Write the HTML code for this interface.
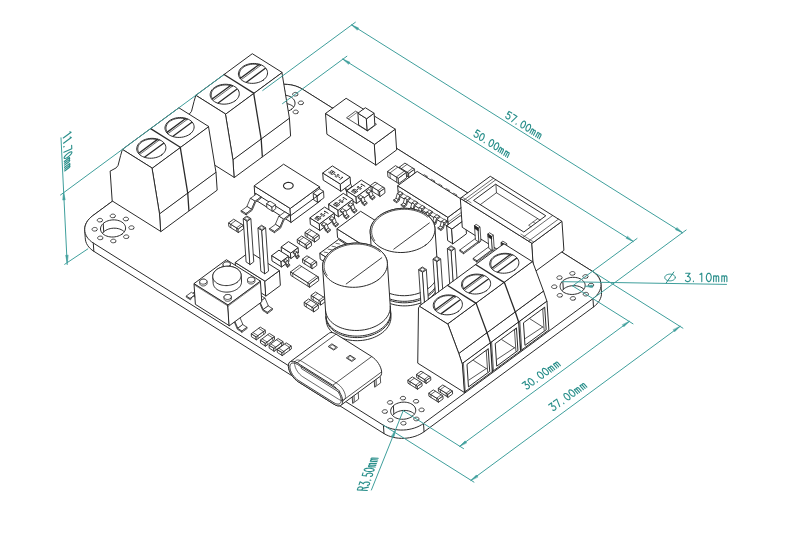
<!DOCTYPE html>
<html><head><meta charset="utf-8"><style>
html,body{margin:0;padding:0;background:#fff;}
svg{display:block;}
</style></head><body>
<svg width="790" height="551" viewBox="0 0 790 551">
<rect width="790" height="551" fill="#fff"/>
<g font-family="Liberation Sans, sans-serif" fill="#fff" stroke="#2b2b2b" stroke-width="1" stroke-linejoin="round" stroke-linecap="round">
<polygon points="84.71,229.72 84.81,227.82 85.18,225.93 85.82,224.06 86.72,222.23 87.87,220.47 89.27,218.78 90.9,217.18 92.74,215.69 262.18,90.89 264.21,89.52 266.43,88.3 268.79,87.21 271.29,86.29 273.89,85.53 276.58,84.95 279.33,84.55 282.11,84.33 284.88,84.3 287.64,84.45 290.35,84.79 292.98,85.31 295.51,86.01 297.91,86.88 300.17,87.91 302.26,89.09 592.41,271.34 594.3,272.66 595.99,274.11 597.45,275.67 598.67,277.33 599.65,279.07 600.36,280.88 600.8,282.74 600.98,284.62 601.53,292.93 601.43,294.82 601.06,296.72 600.42,298.59 599.52,300.41 598.37,302.18 596.97,303.87 595.34,305.47 593.5,306.96 424.06,431.76 422.03,433.12 419.82,434.35 417.45,435.43 414.95,436.36 412.35,437.11 409.66,437.7 406.91,438.1 404.14,438.32 401.36,438.35 398.6,438.19 395.89,437.85 393.26,437.33 390.73,436.64 388.33,435.77 386.07,434.74 383.99,433.56 93.83,251.31 91.94,249.99 90.25,248.54 88.79,246.98 87.57,245.32 86.59,243.58 85.88,241.77 85.44,239.91 85.26,238.02"/>
<polygon points="383.43,425.26 385.52,426.44 387.77,427.47 390.18,428.33 392.71,429.03 395.34,429.55 398.05,429.89 400.8,430.05 403.58,430.01 406.36,429.8 409.1,429.39 411.79,428.81 414.4,428.06 416.9,427.13 419.26,426.05 421.47,424.82 423.51,423.45 592.95,298.65 594.79,297.17 596.42,295.57 597.81,293.88 598.97,292.11 599.87,290.29 600.51,288.42 600.88,286.52 600.98,284.62 600.8,282.74 600.36,280.88 599.65,279.07 598.67,277.33 597.45,275.67 595.99,274.11 594.3,272.66 592.41,271.34 302.26,89.09 300.17,87.91 297.91,86.88 295.51,86.01 292.98,85.31 290.35,84.79 287.64,84.45 284.88,84.3 282.1,84.33 279.33,84.55 276.58,84.95 273.89,85.53 271.29,86.29 268.79,87.21 266.42,88.29 264.21,89.52 262.18,90.89 92.74,215.69 90.9,217.18 89.27,218.78 87.87,220.47 86.72,222.23 85.82,224.06 85.18,225.93 84.81,227.82 84.71,229.72 84.88,231.61 85.33,233.47 86.04,235.27 87.01,237.02 88.24,238.68 89.7,240.24 91.38,241.69 93.28,243.01"/>
<polyline points="93.28,243.01 93.83,251.31" fill="none"/>
<polyline points="383.43,425.26 383.98,433.56" fill="none"/>
<polyline points="423.51,423.45 424.06,431.76" fill="none"/>
<polyline points="592.95,298.65 593.5,306.96" fill="none"/>
<polygon points="122.04,234.1 123.11,233.21 124,232.24 124.71,231.2 125.22,230.12 125.51,229 125.6,227.88 125.47,226.77 125.13,225.69 124.58,224.65 123.83,223.68 122.9,222.79 121.8,222 120.55,221.32 119.18,220.76 117.69,220.33 116.13,220.04 114.52,219.89 112.88,219.89 111.24,220.04 109.64,220.33 108.09,220.76 106.63,221.32 105.27,222 104.05,222.8 102.99,223.69 102.09,224.66 101.39,225.7 100.88,226.78 100.58,227.89 100.5,229.01 100.63,230.12 100.97,231.21 101.52,232.24 102.26,233.21 103.19,234.1 104.29,234.9 105.54,235.58 106.92,236.14 108.4,236.57 109.96,236.86 111.58,237 113.22,237 114.86,236.86 116.46,236.56 118.01,236.13 119.47,235.57 120.82,234.89 122.04,234.1"/>
<clipPath id="h3_3"><polygon points="122.04,234.1 123.11,233.21 124,232.24 124.71,231.2 125.22,230.12 125.51,229 125.6,227.88 125.47,226.77 125.13,225.69 124.58,224.65 123.83,223.68 122.9,222.79 121.8,222 120.55,221.32 119.18,220.76 117.69,220.33 116.13,220.04 114.52,219.89 112.88,219.89 111.24,220.04 109.64,220.33 108.09,220.76 106.63,221.32 105.27,222 104.05,222.8 102.99,223.69 102.09,224.66 101.39,225.7 100.88,226.78 100.58,227.89 100.5,229.01 100.63,230.12 100.97,231.21 101.52,232.24 102.26,233.21 103.19,234.1 104.29,234.9 105.54,235.58 106.92,236.14 108.4,236.57 109.96,236.86 111.58,237 113.22,237 114.86,236.86 116.46,236.56 118.01,236.13 119.47,235.57 120.82,234.89 122.04,234.1"/></clipPath>
<polygon points="122.6,242.4 123.66,241.51 124.56,240.54 125.26,239.5 125.77,238.42 126.07,237.31 126.15,236.19 126.02,235.07 125.68,233.99 125.13,232.95 124.39,231.98 123.46,231.09 122.36,230.3 121.11,229.62 119.73,229.06 118.25,228.63 116.69,228.34 115.07,228.19 113.43,228.2 111.8,228.34 110.19,228.63 108.64,229.06 107.18,229.62 105.83,230.31 104.61,231.1 103.54,231.99 102.65,232.96 101.94,234 101.44,235.08 101.14,236.19 101.05,237.31 101.18,238.43 101.52,239.51 102.07,240.54 102.82,241.52 103.75,242.4 104.85,243.2 106.1,243.88 107.47,244.44 108.96,244.87 110.52,245.16 112.13,245.3 113.77,245.3 115.41,245.16 117.02,244.87 118.56,244.44 120.03,243.88 121.38,243.19 122.6,242.4" fill="none" clip-path="url(#h3_3)"/>
<polyline points="103.19,223.5 103.74,231.8" fill="none" clip-path="url(#h3_3)"/>
<polygon points="128.14,237.92 128.7,237.31 128.89,236.6 128.68,235.91 128.09,235.35 127.21,234.99 126.19,234.9 125.17,235.09 124.31,235.52 123.74,236.14 123.55,236.84 123.77,237.53 124.36,238.09 125.23,238.45 126.26,238.54 127.28,238.36 128.14,237.92" stroke-width="0.85"/>
<polygon points="133.34,228.82 133.91,228.21 134.1,227.5 133.88,226.81 133.29,226.25 132.42,225.89 131.39,225.8 130.37,225.98 129.51,226.42 128.95,227.03 128.76,227.74 128.97,228.43 129.57,228.99 130.44,229.35 131.47,229.44 132.48,229.26 133.34,228.82" stroke-width="0.85"/>
<polygon points="127.78,220.21 128.35,219.59 128.54,218.88 128.32,218.2 127.73,217.63 126.86,217.28 125.83,217.18 124.81,217.37 123.95,217.8 123.39,218.42 123.2,219.12 123.41,219.81 124.01,220.38 124.88,220.73 125.91,220.83 126.93,220.64 127.78,220.21" stroke-width="0.85"/>
<polygon points="114.71,217.12 115.28,216.51 115.47,215.8 115.25,215.11 114.66,214.55 113.79,214.19 112.76,214.1 111.74,214.28 110.88,214.72 110.32,215.33 110.13,216.04 110.34,216.73 110.94,217.29 111.81,217.65 112.84,217.74 113.86,217.56 114.71,217.12" stroke-width="0.85"/>
<polygon points="101.79,221.38 102.36,220.76 102.55,220.05 102.33,219.37 101.74,218.8 100.86,218.44 99.84,218.35 98.82,218.54 97.96,218.97 97.39,219.59 97.2,220.29 97.42,220.98 98.01,221.55 98.89,221.9 99.91,221.99 100.93,221.81 101.79,221.38" stroke-width="0.85"/>
<polygon points="96.58,230.48 97.15,229.86 97.34,229.15 97.12,228.47 96.53,227.9 95.66,227.55 94.63,227.45 93.61,227.64 92.75,228.07 92.19,228.69 92,229.39 92.21,230.08 92.8,230.65 93.68,231 94.7,231.1 95.72,230.91 96.58,230.48" stroke-width="0.85"/>
<polygon points="102.14,239.09 102.71,238.48 102.9,237.77 102.68,237.08 102.09,236.52 101.22,236.16 100.19,236.07 99.17,236.25 98.31,236.69 97.75,237.3 97.56,238.01 97.77,238.7 98.36,239.26 99.24,239.62 100.26,239.71 101.28,239.53 102.14,239.09" stroke-width="0.85"/>
<polygon points="115.21,242.18 115.78,241.56 115.97,240.86 115.75,240.17 115.16,239.6 114.29,239.25 113.26,239.15 112.24,239.34 111.38,239.77 110.81,240.39 110.63,241.1 110.84,241.78 111.43,242.35 112.31,242.7 113.33,242.8 114.35,242.61 115.21,242.18" stroke-width="0.85"/>
<polygon points="291.48,109.3 292.55,108.41 293.44,107.44 294.15,106.4 294.66,105.32 294.95,104.2 295.04,103.08 294.91,101.97 294.57,100.89 294.02,99.85 293.27,98.88 292.34,97.99 291.24,97.2 289.99,96.52 288.62,95.96 287.13,95.53 285.57,95.24 283.96,95.09 282.32,95.09 280.68,95.24 279.08,95.53 277.53,95.96 276.07,96.52 274.71,97.2 273.49,98 272.43,98.89 271.53,99.86 270.83,100.9 270.32,101.98 270.02,103.09 269.94,104.21 270.07,105.32 270.41,106.41 270.96,107.44 271.7,108.41 272.63,109.3 273.73,110.1 274.98,110.78 276.36,111.34 277.84,111.77 279.4,112.06 281.02,112.2 282.66,112.2 284.3,112.06 285.9,111.76 287.45,111.33 288.91,110.77 290.26,110.09 291.48,109.3"/>
<clipPath id="h3_33"><polygon points="291.48,109.3 292.55,108.41 293.44,107.44 294.15,106.4 294.66,105.32 294.95,104.2 295.04,103.08 294.91,101.97 294.57,100.89 294.02,99.85 293.27,98.88 292.34,97.99 291.24,97.2 289.99,96.52 288.62,95.96 287.13,95.53 285.57,95.24 283.96,95.09 282.32,95.09 280.68,95.24 279.08,95.53 277.53,95.96 276.07,96.52 274.71,97.2 273.49,98 272.43,98.89 271.53,99.86 270.83,100.9 270.32,101.98 270.02,103.09 269.94,104.21 270.07,105.32 270.41,106.41 270.96,107.44 271.7,108.41 272.63,109.3 273.73,110.1 274.98,110.78 276.36,111.34 277.84,111.77 279.4,112.06 281.02,112.2 282.66,112.2 284.3,112.06 285.9,111.76 287.45,111.33 288.91,110.77 290.26,110.09 291.48,109.3"/></clipPath>
<polygon points="292.04,117.6 293.1,116.71 294,115.74 294.7,114.7 295.21,113.62 295.51,112.51 295.59,111.39 295.46,110.27 295.12,109.19 294.57,108.15 293.83,107.18 292.9,106.29 291.8,105.5 290.55,104.82 289.17,104.26 287.69,103.83 286.13,103.54 284.51,103.39 282.87,103.4 281.24,103.54 279.63,103.83 278.08,104.26 276.62,104.82 275.27,105.51 274.05,106.3 272.98,107.19 272.09,108.16 271.38,109.2 270.88,110.28 270.58,111.39 270.49,112.51 270.62,113.63 270.96,114.71 271.51,115.74 272.26,116.72 273.19,117.6 274.29,118.4 275.54,119.08 276.91,119.64 278.4,120.07 279.96,120.36 281.57,120.5 283.21,120.5 284.85,120.36 286.46,120.07 288,119.64 289.47,119.08 290.82,118.39 292.04,117.6" fill="none" clip-path="url(#h3_33)"/>
<polyline points="272.63,98.7 273.18,107" fill="none" clip-path="url(#h3_33)"/>
<polygon points="297.58,113.12 298.14,112.51 298.33,111.8 298.12,111.11 297.53,110.55 296.65,110.19 295.63,110.1 294.61,110.29 293.75,110.72 293.18,111.34 292.99,112.04 293.21,112.73 293.8,113.29 294.67,113.65 295.7,113.74 296.72,113.56 297.58,113.12" stroke-width="0.85"/>
<polygon points="302.78,104.02 303.35,103.41 303.54,102.7 303.32,102.01 302.73,101.45 301.86,101.09 300.83,101 299.81,101.18 298.95,101.62 298.39,102.23 298.2,102.94 298.41,103.63 299.01,104.19 299.88,104.55 300.91,104.64 301.92,104.46 302.78,104.02" stroke-width="0.85"/>
<polygon points="297.22,95.41 297.79,94.79 297.98,94.08 297.76,93.4 297.17,92.83 296.3,92.48 295.27,92.38 294.25,92.57 293.39,93 292.83,93.62 292.64,94.32 292.85,95.01 293.45,95.58 294.32,95.93 295.35,96.03 296.37,95.84 297.22,95.41" stroke-width="0.85"/>
<polygon points="284.15,92.32 284.72,91.71 284.91,91 284.69,90.31 284.1,89.75 283.23,89.39 282.2,89.3 281.18,89.48 280.32,89.92 279.76,90.53 279.57,91.24 279.78,91.93 280.38,92.49 281.25,92.85 282.28,92.94 283.3,92.76 284.15,92.32" stroke-width="0.85"/>
<polygon points="271.23,96.58 271.8,95.96 271.99,95.25 271.77,94.57 271.18,94 270.3,93.64 269.28,93.55 268.26,93.74 267.4,94.17 266.83,94.79 266.64,95.49 266.86,96.18 267.45,96.75 268.33,97.1 269.35,97.19 270.37,97.01 271.23,96.58" stroke-width="0.85"/>
<polygon points="266.02,105.68 266.59,105.06 266.78,104.35 266.56,103.67 265.97,103.1 265.1,102.75 264.07,102.65 263.05,102.84 262.19,103.27 261.63,103.89 261.44,104.59 261.65,105.28 262.24,105.85 263.12,106.2 264.14,106.3 265.16,106.11 266.02,105.68" stroke-width="0.85"/>
<polygon points="271.58,114.29 272.15,113.68 272.34,112.97 272.12,112.28 271.53,111.72 270.66,111.36 269.63,111.27 268.61,111.45 267.75,111.89 267.19,112.5 267,113.21 267.21,113.9 267.8,114.46 268.68,114.82 269.7,114.91 270.72,114.73 271.58,114.29" stroke-width="0.85"/>
<polygon points="284.65,117.38 285.22,116.76 285.41,116.06 285.19,115.37 284.6,114.8 283.73,114.45 282.7,114.35 281.68,114.54 280.82,114.97 280.25,115.59 280.07,116.3 280.28,116.98 280.87,117.55 281.75,117.9 282.77,118 283.79,117.81 284.65,117.38" stroke-width="0.85"/>
<polygon points="412.19,416.35 413.26,415.46 414.15,414.49 414.86,413.45 415.37,412.37 415.66,411.25 415.75,410.13 415.62,409.02 415.28,407.94 414.73,406.9 413.98,405.93 413.05,405.04 411.95,404.25 410.7,403.57 409.33,403.01 407.84,402.58 406.28,402.29 404.67,402.14 403.03,402.14 401.39,402.29 399.79,402.58 398.24,403.01 396.78,403.57 395.42,404.25 394.2,405.05 393.14,405.94 392.24,406.91 391.54,407.95 391.03,409.03 390.73,410.14 390.65,411.26 390.78,412.37 391.12,413.46 391.67,414.49 392.41,415.46 393.34,416.35 394.44,417.15 395.69,417.83 397.07,418.39 398.55,418.82 400.11,419.11 401.73,419.25 403.37,419.25 405.01,419.11 406.61,418.81 408.16,418.38 409.62,417.82 410.97,417.14 412.19,416.35"/>
<clipPath id="h53_3"><polygon points="412.19,416.35 413.26,415.46 414.15,414.49 414.86,413.45 415.37,412.37 415.66,411.25 415.75,410.13 415.62,409.02 415.28,407.94 414.73,406.9 413.98,405.93 413.05,405.04 411.95,404.25 410.7,403.57 409.33,403.01 407.84,402.58 406.28,402.29 404.67,402.14 403.03,402.14 401.39,402.29 399.79,402.58 398.24,403.01 396.78,403.57 395.42,404.25 394.2,405.05 393.14,405.94 392.24,406.91 391.54,407.95 391.03,409.03 390.73,410.14 390.65,411.26 390.78,412.37 391.12,413.46 391.67,414.49 392.41,415.46 393.34,416.35 394.44,417.15 395.69,417.83 397.07,418.39 398.55,418.82 400.11,419.11 401.73,419.25 403.37,419.25 405.01,419.11 406.61,418.81 408.16,418.38 409.62,417.82 410.97,417.14 412.19,416.35"/></clipPath>
<polygon points="412.75,424.65 413.81,423.76 414.71,422.79 415.41,421.75 415.92,420.67 416.22,419.56 416.3,418.44 416.17,417.32 415.83,416.24 415.28,415.2 414.54,414.23 413.61,413.34 412.51,412.55 411.26,411.87 409.88,411.31 408.4,410.88 406.84,410.59 405.22,410.44 403.58,410.45 401.95,410.59 400.34,410.88 398.79,411.31 397.33,411.87 395.98,412.56 394.76,413.35 393.69,414.24 392.8,415.21 392.09,416.25 391.59,417.33 391.29,418.44 391.2,419.56 391.33,420.68 391.67,421.76 392.22,422.79 392.97,423.77 393.9,424.65 395,425.45 396.25,426.13 397.62,426.69 399.11,427.12 400.67,427.41 402.28,427.55 403.92,427.55 405.56,427.41 407.17,427.12 408.71,426.69 410.18,426.13 411.53,425.44 412.75,424.65" fill="none" clip-path="url(#h53_3)"/>
<polyline points="393.34,405.75 393.89,414.05" fill="none" clip-path="url(#h53_3)"/>
<polygon points="418.29,420.17 418.85,419.56 419.04,418.85 418.83,418.16 418.24,417.6 417.36,417.24 416.34,417.15 415.32,417.34 414.46,417.77 413.89,418.39 413.7,419.09 413.92,419.78 414.51,420.34 415.38,420.7 416.41,420.79 417.43,420.61 418.29,420.17" stroke-width="0.85"/>
<polygon points="423.49,411.07 424.06,410.46 424.25,409.75 424.03,409.06 423.44,408.5 422.57,408.14 421.54,408.05 420.52,408.23 419.66,408.67 419.1,409.28 418.91,409.99 419.12,410.68 419.72,411.24 420.59,411.6 421.62,411.69 422.63,411.51 423.49,411.07" stroke-width="0.85"/>
<polygon points="417.93,402.46 418.5,401.84 418.69,401.13 418.47,400.45 417.88,399.88 417.01,399.53 415.98,399.43 414.96,399.62 414.1,400.05 413.54,400.67 413.35,401.37 413.56,402.06 414.16,402.63 415.03,402.98 416.06,403.08 417.08,402.89 417.93,402.46" stroke-width="0.85"/>
<polygon points="404.86,399.37 405.43,398.76 405.62,398.05 405.4,397.36 404.81,396.8 403.94,396.44 402.91,396.35 401.89,396.53 401.03,396.97 400.47,397.58 400.28,398.29 400.49,398.98 401.09,399.54 401.96,399.9 402.99,399.99 404.01,399.81 404.86,399.37" stroke-width="0.85"/>
<polygon points="391.94,403.63 392.51,403.01 392.7,402.3 392.48,401.62 391.89,401.05 391.01,400.69 389.99,400.6 388.97,400.79 388.11,401.22 387.54,401.84 387.35,402.54 387.57,403.23 388.16,403.8 389.04,404.15 390.06,404.24 391.08,404.06 391.94,403.63" stroke-width="0.85"/>
<polygon points="386.73,412.73 387.3,412.11 387.49,411.4 387.27,410.72 386.68,410.15 385.81,409.8 384.78,409.7 383.76,409.89 382.9,410.32 382.34,410.94 382.15,411.64 382.36,412.33 382.95,412.9 383.83,413.25 384.85,413.35 385.87,413.16 386.73,412.73" stroke-width="0.85"/>
<polygon points="392.29,421.34 392.86,420.73 393.05,420.02 392.83,419.33 392.24,418.77 391.37,418.41 390.34,418.32 389.32,418.5 388.46,418.94 387.9,419.55 387.71,420.26 387.92,420.95 388.51,421.51 389.39,421.87 390.41,421.96 391.43,421.78 392.29,421.34" stroke-width="0.85"/>
<polygon points="405.36,424.43 405.93,423.81 406.12,423.11 405.9,422.42 405.31,421.85 404.44,421.5 403.41,421.4 402.39,421.59 401.53,422.02 400.96,422.64 400.78,423.35 400.99,424.03 401.58,424.6 402.46,424.95 403.48,425.05 404.5,424.86 405.36,424.43" stroke-width="0.85"/>
<polygon points="581.63,291.55 582.7,290.66 583.59,289.69 584.3,288.65 584.81,287.57 585.1,286.45 585.19,285.33 585.06,284.22 584.72,283.14 584.17,282.1 583.42,281.13 582.49,280.24 581.39,279.45 580.14,278.77 578.77,278.21 577.28,277.78 575.72,277.49 574.11,277.34 572.47,277.34 570.83,277.49 569.23,277.78 567.68,278.21 566.22,278.77 564.86,279.45 563.64,280.25 562.58,281.14 561.68,282.11 560.98,283.15 560.47,284.23 560.17,285.34 560.09,286.46 560.22,287.57 560.56,288.66 561.11,289.69 561.85,290.66 562.78,291.55 563.88,292.35 565.13,293.03 566.51,293.59 567.99,294.02 569.55,294.31 571.17,294.45 572.81,294.45 574.45,294.31 576.05,294.01 577.6,293.58 579.06,293.02 580.41,292.34 581.63,291.55"/>
<clipPath id="h53_33"><polygon points="581.63,291.55 582.7,290.66 583.59,289.69 584.3,288.65 584.81,287.57 585.1,286.45 585.19,285.33 585.06,284.22 584.72,283.14 584.17,282.1 583.42,281.13 582.49,280.24 581.39,279.45 580.14,278.77 578.77,278.21 577.28,277.78 575.72,277.49 574.11,277.34 572.47,277.34 570.83,277.49 569.23,277.78 567.68,278.21 566.22,278.77 564.86,279.45 563.64,280.25 562.58,281.14 561.68,282.11 560.98,283.15 560.47,284.23 560.17,285.34 560.09,286.46 560.22,287.57 560.56,288.66 561.11,289.69 561.85,290.66 562.78,291.55 563.88,292.35 565.13,293.03 566.51,293.59 567.99,294.02 569.55,294.31 571.17,294.45 572.81,294.45 574.45,294.31 576.05,294.01 577.6,293.58 579.06,293.02 580.41,292.34 581.63,291.55"/></clipPath>
<polygon points="582.19,299.85 583.25,298.96 584.15,297.99 584.85,296.95 585.36,295.87 585.66,294.76 585.74,293.64 585.61,292.52 585.27,291.44 584.72,290.4 583.98,289.43 583.05,288.54 581.95,287.75 580.7,287.07 579.32,286.51 577.84,286.08 576.28,285.79 574.66,285.64 573.02,285.65 571.39,285.79 569.78,286.08 568.23,286.51 566.77,287.07 565.42,287.76 564.2,288.55 563.13,289.44 562.24,290.41 561.53,291.45 561.03,292.53 560.73,293.64 560.64,294.76 560.77,295.88 561.11,296.96 561.66,297.99 562.41,298.97 563.34,299.85 564.44,300.65 565.69,301.33 567.06,301.89 568.55,302.32 570.11,302.61 571.72,302.75 573.36,302.75 575,302.61 576.61,302.32 578.15,301.89 579.62,301.33 580.97,300.64 582.19,299.85" fill="none" clip-path="url(#h53_33)"/>
<polyline points="562.78,280.95 563.33,289.25" fill="none" clip-path="url(#h53_33)"/>
<polygon points="587.73,295.37 588.29,294.76 588.48,294.05 588.27,293.36 587.68,292.8 586.8,292.44 585.78,292.35 584.76,292.54 583.9,292.97 583.33,293.59 583.14,294.29 583.36,294.98 583.95,295.54 584.82,295.9 585.85,295.99 586.87,295.81 587.73,295.37" stroke-width="0.85"/>
<polygon points="592.93,286.27 593.5,285.66 593.69,284.95 593.47,284.26 592.88,283.7 592.01,283.34 590.98,283.25 589.96,283.43 589.1,283.87 588.54,284.48 588.35,285.19 588.56,285.88 589.16,286.44 590.03,286.8 591.06,286.89 592.07,286.71 592.93,286.27" stroke-width="0.85"/>
<polygon points="587.37,277.66 587.94,277.04 588.13,276.33 587.91,275.65 587.32,275.08 586.45,274.73 585.42,274.63 584.4,274.82 583.54,275.25 582.98,275.87 582.79,276.57 583,277.26 583.6,277.83 584.47,278.18 585.5,278.28 586.52,278.09 587.37,277.66" stroke-width="0.85"/>
<polygon points="574.3,274.57 574.87,273.96 575.06,273.25 574.84,272.56 574.25,272 573.38,271.64 572.35,271.55 571.33,271.73 570.47,272.17 569.91,272.78 569.72,273.49 569.93,274.18 570.53,274.74 571.4,275.1 572.43,275.19 573.45,275.01 574.3,274.57" stroke-width="0.85"/>
<polygon points="561.38,278.83 561.95,278.21 562.14,277.5 561.92,276.82 561.33,276.25 560.45,275.89 559.43,275.8 558.41,275.99 557.55,276.42 556.98,277.04 556.79,277.74 557.01,278.43 557.6,279 558.48,279.35 559.5,279.44 560.52,279.26 561.38,278.83" stroke-width="0.85"/>
<polygon points="556.17,287.93 556.74,287.31 556.93,286.6 556.71,285.92 556.12,285.35 555.25,285 554.22,284.9 553.2,285.09 552.34,285.52 551.78,286.14 551.59,286.84 551.8,287.53 552.39,288.1 553.27,288.45 554.29,288.55 555.31,288.36 556.17,287.93" stroke-width="0.85"/>
<polygon points="561.73,296.54 562.3,295.93 562.49,295.22 562.27,294.53 561.68,293.97 560.81,293.61 559.78,293.52 558.76,293.7 557.9,294.14 557.34,294.75 557.15,295.46 557.36,296.15 557.95,296.71 558.83,297.07 559.85,297.16 560.87,296.98 561.73,296.54" stroke-width="0.85"/>
<polygon points="574.8,299.63 575.37,299.01 575.56,298.31 575.34,297.62 574.75,297.05 573.88,296.7 572.85,296.6 571.83,296.79 570.97,297.22 570.4,297.84 570.22,298.55 570.43,299.23 571.02,299.8 571.9,300.15 572.92,300.25 573.94,300.06 574.8,299.63" stroke-width="0.85"/>
<polygon points="327.23,134.45 376.03,165.1 374.64,144.35 325.84,113.69"/>
<polygon points="376.03,165.1 396.64,149.92 395.26,129.16 374.64,144.35"/>
<polygon points="325.84,113.69 374.64,144.35 395.26,129.16 346.46,98.51"/>
<polygon points="346.84,118.02 367.44,130.96 376.48,124.3 355.88,111.36" stroke-width="0.8"/>
<polyline points="348.29,118.93 357.33,112.27" fill="none" stroke-width="0.6"/>
<polygon points="359.02,125.28 367.44,130.57 366.64,118.71 358.23,113.42"/>
<polygon points="367.44,130.57 374.89,125.08 374.1,113.22 366.64,118.71"/>
<polygon points="358.23,113.42 366.64,118.71 374.1,113.22 365.68,107.93"/>
<polygon points="232.93,159.81 225.41,113.9 281.89,72.3 289.41,118.21"/>
<polygon points="234.09,177.3 232.93,159.81 289.41,118.21 290.57,135.7"/>
<polygon points="225.41,113.9 195.82,95.31 252.3,53.71 281.89,72.3"/>
<polygon points="185.93,147.05 234.09,177.3 232.93,159.81 225.41,113.9 195.82,95.31 194.01,101.56 191.5,111.35 189.6,113.79 184.45,116.58 183.91,116.81"/>
<polyline points="261.17,139.01 253.65,93.1" fill="none" stroke-width="1.3"/>
<polyline points="262.33,156.5 261.17,139.01" fill="none" stroke-width="1.3"/>
<polyline points="253.65,93.1 224.06,74.51" fill="none" stroke-width="1.3"/>
<polygon points="235.18,100.77 236.42,99.73 237.46,98.61 238.28,97.4 238.86,96.14 239.21,94.85 239.31,93.55 239.16,92.26 238.76,91 238.13,89.8 237.26,88.67 236.18,87.64 234.9,86.72 233.45,85.93 231.85,85.28 230.13,84.78 228.32,84.44 226.44,84.27 224.54,84.27 222.64,84.44 220.77,84.78 218.98,85.28 217.28,85.93 215.71,86.72 214.29,87.65 213.05,88.68 212.01,89.81 211.19,91.01 210.61,92.27 210.26,93.56 210.16,94.86 210.31,96.15 210.71,97.41 211.35,98.61 212.21,99.74 213.29,100.77 214.57,101.69 216.02,102.49 217.62,103.14 219.34,103.64 221.15,103.97 223.03,104.14 224.93,104.14 226.83,103.97 228.7,103.63 230.5,103.13 232.19,102.48 233.76,101.69 235.18,100.77"/>
<polyline points="232.36,86.29 230.83,85.73 229.2,85.32 227.49,85.06 225.73,84.95 223.96,85 222.2,85.21 220.48,85.58 218.84,86.09 217.3,86.74 215.88,87.52 214.62,88.41 213.53,89.41 212.63,90.48 211.94,91.62 211.46,92.8 211.22,94.01 211.2,95.22 211.42,96.41 211.86,97.57 212.53,98.66" fill="none" stroke-width="0.9"/>
<polyline points="212.18,99.1 230.9,85.31" fill="none" stroke-width="1.3"/>
<polyline points="213.28,100.27 232.71,85.96" fill="none" stroke-width="0.7"/>
<polyline points="218.19,102.99 237.09,89.07" fill="none" stroke-width="1.3"/>
<polygon points="263.42,79.97 264.66,78.93 265.7,77.81 266.52,76.6 267.1,75.34 267.45,74.05 267.55,72.75 267.4,71.46 267,70.2 266.37,69 265.5,67.87 264.42,66.84 263.14,65.92 261.69,65.13 260.09,64.48 258.37,63.98 256.56,63.64 254.68,63.47 252.78,63.47 250.88,63.64 249.01,63.98 247.22,64.48 245.52,65.13 243.95,65.92 242.53,66.85 241.29,67.88 240.25,69.01 239.43,70.21 238.85,71.47 238.5,72.76 238.4,74.06 238.55,75.35 238.95,76.61 239.59,77.81 240.45,78.94 241.53,79.97 242.81,80.89 244.26,81.69 245.86,82.34 247.58,82.84 249.39,83.17 251.27,83.34 253.17,83.34 255.07,83.17 256.94,82.83 258.74,82.33 260.43,81.68 262,80.89 263.42,79.97"/>
<polyline points="260.6,65.49 259.07,64.93 257.44,64.52 255.73,64.26 253.97,64.15 252.2,64.2 250.44,64.41 248.72,64.78 247.08,65.29 245.54,65.94 244.12,66.72 242.86,67.61 241.77,68.61 240.87,69.68 240.18,70.82 239.7,72 239.46,73.21 239.44,74.42 239.66,75.61 240.1,76.77 240.77,77.86" fill="none" stroke-width="0.9"/>
<polyline points="240.42,78.3 259.14,64.51" fill="none" stroke-width="1.3"/>
<polyline points="241.52,79.47 260.95,65.16" fill="none" stroke-width="0.7"/>
<polyline points="246.43,82.19 265.33,68.27" fill="none" stroke-width="1.3"/>
<polygon points="399.88,171.6 409.17,177.44 408.89,173.29 399.61,167.45" stroke-width="0.9"/>
<polygon points="409.17,177.44 414.82,173.28 414.54,169.13 408.89,173.29" stroke-width="0.9"/>
<polygon points="399.61,167.45 408.89,173.29 414.54,169.13 405.25,163.29" stroke-width="0.9"/>
<polyline points="401.6,172.4 401.35,168.55 406.99,164.39" fill="none" stroke-width="0.7"/>
<polyline points="407.41,176.05 407.15,172.19 412.8,168.03" fill="none" stroke-width="0.7"/>
<polygon points="388.24,177.01 398.69,183.57 398.33,178.24 387.89,171.67" stroke-width="0.9"/>
<polygon points="398.69,183.57 406.6,177.75 406.24,172.41 398.33,178.24" stroke-width="0.9"/>
<polygon points="387.89,171.67 398.33,178.24 406.24,172.41 395.79,165.85" stroke-width="0.9"/>
<polyline points="390.25,177.99 389.92,172.95 397.82,167.13" fill="none" stroke-width="0.7"/>
<polyline points="396.64,182 396.3,176.96 404.21,171.14" fill="none" stroke-width="0.7"/>
<polygon points="343.02,186.62 344.85,187.77 346.35,191.55 348.44,192.86 348.36,191.68 346.86,190.73 345.35,186.94 342.94,185.43" stroke-width="0.8"/>
<polygon points="342.94,185.43 345.35,186.94 350.43,183.2 348.03,181.69" stroke-width="0.8"/>
<polygon points="345.35,186.94 346.86,190.73 351.94,186.98 350.43,183.2" stroke-width="0.8"/>
<polygon points="346.86,190.73 348.36,191.68 353.45,187.93 351.94,186.98" stroke-width="0.8"/>
<polygon points="348.44,192.86 353.53,189.12 353.45,187.93 348.36,191.68" stroke-width="0.8"/>
<polygon points="323.55,180.31 340.96,191.25 340.49,184.13 323.08,173.2"/>
<polygon points="340.96,191.25 350.56,184.17 350.09,177.06 340.49,184.13"/>
<polygon points="323.08,173.2 340.49,184.13 350.09,177.06 332.68,166.12"/>
<path d="M332.59,171.33 L332.61,170.94 L332.2,170.6 L331.63,170.45 L331.05,170.61 L330.68,171.07 L330.95,172.27 L330.64,172.8 L329.9,173.04 L329.28,172.85 L328.9,172.45 L328.95,172.03 M333.73,171.56 L330.73,173.76 L331.56,174.28 L332.42,174.33 L333.39,173.88 L334.11,173.35 L334.7,172.66 L334.56,172.08 L333.73,171.56 M334.44,174.25 L335.55,174.95 M338.97,175.34 L339,174.95 L338.58,174.61 L338.02,174.46 L337.43,174.62 L337.06,175.08 L337.34,176.27 L337.02,176.81 L336.29,177.04 L335.67,176.86 L335.29,176.46 L335.34,176.04 M338.6,176.86 L339.71,177.56 M341.88,177.29 L342.89,177.31 L339.89,179.51" fill="none" stroke="#222" stroke-width="0.95" stroke-linecap="round" stroke-linejoin="round"/>
<polygon points="370.89,190.58 380.18,196.42 379.86,191.67 370.57,185.84" stroke-width="0.9"/>
<polygon points="380.18,196.42 384.98,192.88 384.66,188.14 379.86,191.67" stroke-width="0.9"/>
<polygon points="370.57,185.84 379.86,191.67 384.66,188.14 375.37,182.3" stroke-width="0.9"/>
<polyline points="372.61,191.38 372.31,186.93 377.12,183.4" fill="none" stroke-width="0.7"/>
<polyline points="378.41,195.03 378.12,190.58 382.92,187.04" fill="none" stroke-width="0.7"/>
<polygon points="347.39,197.6 356.68,203.43 356.24,196.91 346.96,191.07"/>
<polygon points="356.68,203.43 371.36,192.61 370.92,186.09 356.24,196.91"/>
<polygon points="346.96,191.07 356.24,196.91 370.92,186.09 361.64,180.26"/>
<polygon points="358.58,198.61 360.61,199.88 362.28,204.06 364.6,205.51 364.52,204.33 362.78,203.23 361.11,199.06 358.5,197.42" stroke-width="0.8"/>
<polygon points="358.5,197.42 361.11,199.06 363.65,197.19 361.04,195.55" stroke-width="0.8"/>
<polygon points="361.11,199.06 362.78,203.23 365.32,201.36 363.65,197.19" stroke-width="0.8"/>
<polygon points="362.78,203.23 364.52,204.33 367.06,202.46 365.32,201.36" stroke-width="0.8"/>
<polygon points="364.6,205.51 367.14,203.64 367.06,202.46 364.52,204.33" stroke-width="0.8"/>
<polygon points="366.48,192.78 368.51,194.06 370.18,198.23 372.5,199.69 372.42,198.5 370.68,197.41 369.02,193.24 366.4,191.6" stroke-width="0.8"/>
<polygon points="366.4,191.6 369.02,193.24 371.56,191.37 368.95,189.73" stroke-width="0.8"/>
<polygon points="369.02,193.24 370.68,197.41 373.23,195.54 371.56,191.37" stroke-width="0.8"/>
<polygon points="370.68,197.41 372.42,198.5 374.97,196.63 373.23,195.54" stroke-width="0.8"/>
<polygon points="372.5,199.69 375.05,197.82 374.97,196.63 372.42,198.5" stroke-width="0.8"/>
<path d="M352.85,190.73 L352.25,190.69 L351.76,190.95 L351.57,191.33 L351.86,191.75 L352.6,192.05 L354.41,191.94 L355.25,192.2 L355.67,192.73 L355.43,193.15 L354.84,193.38 L354.2,193.32 M353.11,189.96 L356.71,192.21 L357.44,191.66 L357.45,191.07 L356.69,190.36 L355.82,189.82 L354.72,189.36 L353.84,189.41 L353.11,189.96 M357.17,189.65 L358.15,188.93 M358.5,186.57 L357.89,186.53 L357.4,186.79 L357.21,187.17 L357.51,187.59 L358.24,187.88 L360.05,187.78 L360.9,188.04 L361.31,188.56 L361.08,188.98 L360.49,189.22 L359.85,189.15 M360.85,186.94 L361.84,186.22 M361.26,184.68 L361.21,183.98 L364.81,186.23" fill="none" stroke="#222" stroke-width="0.95" stroke-linecap="round" stroke-linejoin="round"/>
<polygon points="255.46,199.97 291.15,222.39 290.22,208.45 254.53,186.04"/>
<polygon points="291.15,222.39 320.52,200.76 319.59,186.82 290.22,208.45"/>
<polygon points="254.53,186.04 290.22,208.45 319.59,186.82 283.9,164.41"/>
<polygon points="313.95,200 317.72,202.37 317.29,195.84 313.52,193.47" stroke-width="0.9"/>
<polygon points="317.72,202.37 323.94,197.79 323.5,191.27 317.29,195.84" stroke-width="0.9"/>
<polygon points="313.52,193.47 317.29,195.84 323.5,191.27 319.73,188.9" stroke-width="0.9"/>
<polyline points="255.01,193.15 290.69,215.57" fill="none"/>
<polyline points="290.69,215.57 320.06,193.94" fill="none"/>
<polygon points="291.82,187.88 292.58,187.16 293.04,186.34 293.19,185.47 293.01,184.62 292.51,183.84 291.72,183.19 290.71,182.71 289.53,182.43 288.27,182.38 287.01,182.55 285.85,182.93 284.85,183.5 284.09,184.22 283.63,185.04 283.48,185.91 283.66,186.76 284.16,187.53 284.95,188.19 285.96,188.67 287.14,188.94 288.4,189 289.66,188.83 290.82,188.45 291.82,187.88" stroke-width="1.1"/>
<polygon points="256.19,194.18 250.28,198.53 254.93,201.44 260.83,197.1" stroke-width="0.8"/>
<polygon points="250.28,198.53 246.83,206.67 251.47,209.59 254.93,201.44" stroke-width="0.8"/>
<polygon points="246.83,206.67 241.29,210.75 245.94,213.66 251.47,209.59" stroke-width="0.8"/>
<polygon points="260.91,198.28 255.57,202.21 252.12,210.36 246.02,214.85 245.94,213.66 251.47,209.59 254.93,201.44 260.83,197.1" stroke-width="0.8"/>
<polygon points="241.37,211.93 246.02,214.85 245.94,213.66 241.29,210.75" stroke-width="0.8"/>
<polygon points="284.62,212.04 278.72,216.39 283.36,219.3 289.26,214.96" stroke-width="0.8"/>
<polygon points="278.72,216.39 275.26,224.53 279.91,227.45 283.36,219.3" stroke-width="0.8"/>
<polygon points="275.26,224.53 269.73,228.61 274.37,231.53 279.91,227.45" stroke-width="0.8"/>
<polygon points="289.34,216.14 284.01,220.07 280.55,228.22 274.45,232.71 274.37,231.53 279.91,227.45 283.36,219.3 289.26,214.96" stroke-width="0.8"/>
<polygon points="269.81,229.8 274.45,232.71 274.37,231.53 269.73,228.61" stroke-width="0.8"/>
<polygon points="267.17,207.98 272.4,211.26 272.12,207.11 266.9,203.83" stroke-width="0.8"/>
<polygon points="272.4,211.26 275.79,208.76 275.51,204.61 272.12,207.11" stroke-width="0.8"/>
<polygon points="266.9,203.83 272.12,207.11 275.51,204.61 270.29,201.33" stroke-width="0.8"/>
<polygon points="159.5,213.89 151.99,167.98 208.47,126.38 215.98,172.29"/>
<polygon points="160.67,231.38 159.5,213.89 215.98,172.29 217.15,189.78"/>
<polygon points="151.99,167.98 122.39,149.39 178.87,107.79 208.47,126.38"/>
<polygon points="112.51,201.13 160.67,231.38 159.5,213.89 151.99,167.98 122.39,149.39 120.59,155.64 118.07,165.43 116.18,167.87 111.03,170.66 110.49,170.89"/>
<polyline points="187.74,193.09 180.23,147.18" fill="none" stroke-width="1.3"/>
<polyline points="188.91,210.58 187.74,193.09" fill="none" stroke-width="1.3"/>
<polyline points="180.23,147.18 150.63,128.59" fill="none" stroke-width="1.3"/>
<polygon points="161.76,154.85 162.99,153.81 164.03,152.69 164.85,151.48 165.44,150.22 165.79,148.93 165.89,147.63 165.74,146.34 165.34,145.08 164.7,143.88 163.84,142.75 162.75,141.72 161.48,140.8 160.03,140.01 158.43,139.36 156.71,138.86 154.89,138.52 153.02,138.35 151.11,138.35 149.21,138.52 147.35,138.86 145.55,139.36 143.85,140.01 142.28,140.8 140.87,141.73 139.63,142.76 138.59,143.89 137.77,145.09 137.18,146.35 136.84,147.64 136.74,148.94 136.89,150.23 137.28,151.49 137.92,152.69 138.79,153.82 139.87,154.85 141.15,155.77 142.6,156.57 144.2,157.22 145.92,157.72 147.73,158.05 149.6,158.22 151.51,158.22 153.41,158.05 155.27,157.71 157.07,157.21 158.77,156.56 160.34,155.77 161.76,154.85"/>
<polyline points="158.94,140.37 157.41,139.81 155.78,139.4 154.07,139.14 152.31,139.03 150.54,139.08 148.78,139.29 147.06,139.66 145.42,140.17 143.87,140.82 142.46,141.6 141.19,142.49 140.1,143.49 139.2,144.56 138.51,145.7 138.04,146.88 137.79,148.09 137.78,149.3 137.99,150.49 138.44,151.65 139.1,152.74" fill="none" stroke-width="0.9"/>
<polyline points="138.76,153.18 157.48,139.39" fill="none" stroke-width="1.3"/>
<polyline points="139.86,154.35 159.29,140.04" fill="none" stroke-width="0.7"/>
<polyline points="144.76,157.07 163.66,143.15" fill="none" stroke-width="1.3"/>
<polygon points="190,134.05 191.23,133.01 192.27,131.89 193.09,130.68 193.68,129.42 194.03,128.13 194.13,126.83 193.98,125.54 193.58,124.28 192.94,123.08 192.08,121.95 190.99,120.92 189.72,120 188.27,119.21 186.67,118.56 184.95,118.06 183.13,117.72 181.26,117.55 179.35,117.55 177.45,117.72 175.59,118.06 173.79,118.56 172.09,119.21 170.52,120 169.11,120.93 167.87,121.96 166.83,123.09 166.01,124.29 165.42,125.55 165.08,126.84 164.98,128.14 165.13,129.43 165.52,130.69 166.16,131.89 167.03,133.02 168.11,134.05 169.39,134.97 170.84,135.77 172.44,136.42 174.16,136.92 175.97,137.25 177.84,137.42 179.75,137.42 181.65,137.25 183.51,136.91 185.31,136.41 187.01,135.76 188.58,134.97 190,134.05"/>
<polyline points="187.18,119.57 185.65,119.01 184.02,118.6 182.31,118.34 180.55,118.23 178.78,118.28 177.02,118.49 175.3,118.86 173.66,119.37 172.11,120.02 170.7,120.8 169.43,121.69 168.34,122.69 167.44,123.76 166.75,124.9 166.28,126.08 166.03,127.29 166.02,128.5 166.23,129.69 166.68,130.85 167.34,131.94" fill="none" stroke-width="0.9"/>
<polyline points="167,132.38 185.72,118.59" fill="none" stroke-width="1.3"/>
<polyline points="168.1,133.55 187.53,119.24" fill="none" stroke-width="0.7"/>
<polyline points="173,136.27 191.9,122.35" fill="none" stroke-width="1.3"/>
<polygon points="329.32,210.91 338.6,216.74 338.17,210.22 328.88,204.39"/>
<polygon points="338.6,216.74 353.29,205.92 352.85,199.4 338.17,210.22"/>
<polygon points="328.88,204.39 338.17,210.22 352.85,199.4 343.57,193.57"/>
<polygon points="340.5,211.92 342.53,213.2 344.2,217.37 346.52,218.83 346.44,217.64 344.7,216.55 343.03,212.37 340.42,210.73" stroke-width="0.8"/>
<polygon points="340.42,210.73 343.03,212.37 345.58,210.5 342.96,208.86" stroke-width="0.8"/>
<polygon points="343.03,212.37 344.7,216.55 347.24,214.67 345.58,210.5" stroke-width="0.8"/>
<polygon points="344.7,216.55 346.44,217.64 348.99,215.77 347.24,214.67" stroke-width="0.8"/>
<polygon points="346.52,218.83 349.06,216.95 348.99,215.77 346.44,217.64" stroke-width="0.8"/>
<polygon points="348.41,206.1 350.44,207.37 352.11,211.54 354.43,213 354.35,211.82 352.61,210.72 350.94,206.55 348.33,204.91" stroke-width="0.8"/>
<polygon points="348.33,204.91 350.94,206.55 353.48,204.68 350.87,203.04" stroke-width="0.8"/>
<polygon points="350.94,206.55 352.61,210.72 355.15,208.85 353.48,204.68" stroke-width="0.8"/>
<polygon points="352.61,210.72 354.35,211.82 356.89,209.94 355.15,208.85" stroke-width="0.8"/>
<polygon points="354.43,213 356.97,211.13 356.89,209.94 354.35,211.82" stroke-width="0.8"/>
<path d="M334.78,204.04 L334.17,204 L333.68,204.26 L333.49,204.65 L333.79,205.07 L334.53,205.36 L336.33,205.25 L337.18,205.51 L337.59,206.04 L337.36,206.46 L336.77,206.69 L336.13,206.63 M335.03,203.27 L338.63,205.52 L339.37,204.97 L339.38,204.38 L338.62,203.67 L337.75,203.13 L336.64,202.67 L335.77,202.72 L335.03,203.27 M339.1,202.97 L340.08,202.24 M340.42,199.88 L339.82,199.84 L339.33,200.1 L339.14,200.48 L339.44,200.9 L340.17,201.2 L341.98,201.09 L342.82,201.35 L343.24,201.88 L343,202.3 L342.42,202.53 L341.77,202.47 M342.78,200.25 L343.76,199.53 M343.18,198 L343.13,197.3 L346.73,199.55" fill="none" stroke="#222" stroke-width="0.95" stroke-linecap="round" stroke-linejoin="round"/>
<polygon points="419.75,182.16 422.3,183.76 422.06,180.2 419.51,178.6" stroke-width="0.7"/>
<polygon points="422.3,183.76 427.39,180.02 427.15,176.46 422.06,180.2" stroke-width="0.7"/>
<polygon points="419.51,178.6 422.06,180.2 427.15,176.46 424.59,174.85" stroke-width="0.7"/>
<polygon points="427.12,186.79 429.67,188.39 429.43,184.83 426.88,183.23" stroke-width="0.7"/>
<polygon points="429.67,188.39 434.75,184.65 434.52,181.09 429.43,184.83" stroke-width="0.7"/>
<polygon points="426.88,183.23 429.43,184.83 434.52,181.09 431.96,179.48" stroke-width="0.7"/>
<polygon points="434.49,191.41 437.04,193.02 436.8,189.46 434.25,187.86" stroke-width="0.7"/>
<polygon points="437.04,193.02 442.12,189.27 441.89,185.72 436.8,189.46" stroke-width="0.7"/>
<polygon points="434.25,187.86 436.8,189.46 441.89,185.72 439.33,184.11" stroke-width="0.7"/>
<polygon points="441.86,196.04 444.41,197.65 444.17,194.09 441.62,192.49" stroke-width="0.7"/>
<polygon points="444.41,197.65 449.49,193.9 449.26,190.35 444.17,194.09" stroke-width="0.7"/>
<polygon points="441.62,192.49 444.17,194.09 449.26,190.35 446.7,188.74" stroke-width="0.7"/>
<polygon points="449.23,200.67 451.78,202.28 451.54,198.72 448.99,197.11" stroke-width="0.7"/>
<polygon points="451.78,202.28 456.86,198.53 456.63,194.97 451.54,198.72" stroke-width="0.7"/>
<polygon points="448.99,197.11 451.54,198.72 456.63,194.97 454.07,193.37" stroke-width="0.7"/>
<polygon points="456.6,205.3 459.15,206.91 458.91,203.35 456.36,201.74" stroke-width="0.7"/>
<polygon points="459.15,206.91 464.23,203.16 464,199.6 458.91,203.35" stroke-width="0.7"/>
<polygon points="456.36,201.74 458.91,203.35 464,199.6 461.44,198" stroke-width="0.7"/>
<polygon points="463.97,209.93 466.52,211.53 466.28,207.98 463.73,206.37" stroke-width="0.7"/>
<polygon points="466.52,211.53 471.6,207.79 471.37,204.23 466.28,207.98" stroke-width="0.7"/>
<polygon points="463.73,206.37 466.28,207.98 471.37,204.23 468.81,202.63" stroke-width="0.7"/>
<polygon points="398.64,195.49 448.54,226.83 447.91,217.35 398,186"/>
<polygon points="448.54,226.83 468.03,212.48 467.4,202.99 447.91,217.35"/>
<polygon points="398,186 447.91,217.35 467.4,202.99 417.49,171.65"/>
<polyline points="398.32,190.74 448.23,222.09" fill="none" stroke-width="0.6"/>
<polyline points="448.23,222.09 467.71,207.74" fill="none" stroke-width="0.6"/>
<polygon points="399.92,191.75 397.18,193.76 399.79,195.4 402.53,193.39" stroke-width="0.8"/>
<polygon points="397.18,193.76 395.86,198.47 398.47,200.11 399.79,195.4" stroke-width="0.8"/>
<polygon points="395.86,198.47 393.94,199.88 396.55,201.52 398.47,200.11" stroke-width="0.8"/>
<polygon points="402.61,194.57 400.43,196.17 399.12,200.88 396.63,202.71 396.55,201.52 398.47,200.11 399.79,195.4 402.53,193.39" stroke-width="0.8"/>
<polygon points="394.02,201.07 396.63,202.71 396.55,201.52 393.94,199.88" stroke-width="0.8"/>
<polygon points="407.29,196.38 404.55,198.39 407.16,200.03 409.9,198.02" stroke-width="0.8"/>
<polygon points="404.55,198.39 403.23,203.09 405.84,204.73 407.16,200.03" stroke-width="0.8"/>
<polygon points="403.23,203.09 401.31,204.51 403.92,206.15 405.84,204.73" stroke-width="0.8"/>
<polygon points="409.98,199.2 407.8,200.8 406.49,205.5 404,207.34 403.92,206.15 405.84,204.73 407.16,200.03 409.9,198.02" stroke-width="0.8"/>
<polygon points="401.39,205.7 404,207.34 403.92,206.15 401.31,204.51" stroke-width="0.8"/>
<polygon points="414.66,201 411.92,203.02 414.53,204.66 417.27,202.64" stroke-width="0.8"/>
<polygon points="411.92,203.02 410.6,207.72 413.21,209.36 414.53,204.66" stroke-width="0.8"/>
<polygon points="410.6,207.72 408.68,209.14 411.29,210.78 413.21,209.36" stroke-width="0.8"/>
<polygon points="417.35,203.83 415.17,205.43 413.86,210.13 411.37,211.96 411.29,210.78 413.21,209.36 414.53,204.66 417.27,202.64" stroke-width="0.8"/>
<polygon points="408.76,210.32 411.37,211.96 411.29,210.78 408.68,209.14" stroke-width="0.8"/>
<polygon points="422.03,205.63 419.29,207.65 421.9,209.29 424.64,207.27" stroke-width="0.8"/>
<polygon points="419.29,207.65 417.97,212.35 420.58,213.99 421.9,209.29" stroke-width="0.8"/>
<polygon points="417.97,212.35 416.05,213.77 418.66,215.41 420.58,213.99" stroke-width="0.8"/>
<polygon points="424.72,208.46 422.54,210.06 421.23,214.76 418.74,216.59 418.66,215.41 420.58,213.99 421.9,209.29 424.64,207.27" stroke-width="0.8"/>
<polygon points="416.13,214.95 418.74,216.59 418.66,215.41 416.05,213.77" stroke-width="0.8"/>
<polygon points="429.4,210.26 426.66,212.28 429.27,213.92 432.01,211.9" stroke-width="0.8"/>
<polygon points="426.66,212.28 425.34,216.98 427.95,218.62 429.27,213.92" stroke-width="0.8"/>
<polygon points="425.34,216.98 423.42,218.4 426.03,220.04 427.95,218.62" stroke-width="0.8"/>
<polygon points="432.09,213.09 429.91,214.69 428.6,219.39 426.11,221.22 426.03,220.04 427.95,218.62 429.27,213.92 432.01,211.9" stroke-width="0.8"/>
<polygon points="423.5,219.58 426.11,221.22 426.03,220.04 423.42,218.4" stroke-width="0.8"/>
<polygon points="436.77,214.89 434.03,216.91 436.64,218.55 439.38,216.53" stroke-width="0.8"/>
<polygon points="434.03,216.91 432.71,221.61 435.32,223.25 436.64,218.55" stroke-width="0.8"/>
<polygon points="432.71,221.61 430.79,223.03 433.4,224.67 435.32,223.25" stroke-width="0.8"/>
<polygon points="439.46,217.72 437.28,219.32 435.97,224.02 433.48,225.85 433.4,224.67 435.32,223.25 436.64,218.55 439.38,216.53" stroke-width="0.8"/>
<polygon points="430.87,224.21 433.48,225.85 433.4,224.67 430.79,223.03" stroke-width="0.8"/>
<polygon points="444.14,219.52 441.4,221.54 444.01,223.18 446.75,221.16" stroke-width="0.8"/>
<polygon points="441.4,221.54 440.08,226.24 442.69,227.88 444.01,223.18" stroke-width="0.8"/>
<polygon points="440.08,226.24 438.16,227.65 440.77,229.3 442.69,227.88" stroke-width="0.8"/>
<polygon points="446.83,222.35 444.65,223.95 443.34,228.65 440.85,230.48 440.77,229.3 442.69,227.88 444.01,223.18 446.75,221.16" stroke-width="0.8"/>
<polygon points="438.24,228.84 440.85,230.48 440.77,229.3 438.16,227.65" stroke-width="0.8"/>
<polygon points="229.17,226.7 238.46,232.53 238.22,228.98 228.94,223.14" stroke-width="0.9"/>
<polygon points="238.46,232.53 243.54,228.79 243.3,225.23 238.22,228.98" stroke-width="0.9"/>
<polygon points="228.94,223.14 238.22,228.98 243.3,225.23 234.02,219.4" stroke-width="0.9"/>
<polyline points="230.89,227.5 230.68,224.24 235.76,220.49" fill="none" stroke-width="0.7"/>
<polyline points="236.7,231.14 236.48,227.88 241.56,224.14" fill="none" stroke-width="0.7"/>
<polygon points="310.68,224.64 319.96,230.47 319.53,223.95 310.24,218.11"/>
<polygon points="319.96,230.47 334.65,219.65 334.21,213.13 319.53,223.95"/>
<polygon points="310.24,218.11 319.53,223.95 334.21,213.13 324.93,207.3"/>
<polygon points="321.86,225.65 323.9,226.92 325.56,231.1 327.88,232.55 327.81,231.37 326.06,230.27 324.4,226.1 321.78,224.46" stroke-width="0.8"/>
<polygon points="321.78,224.46 324.4,226.1 326.94,224.23 324.33,222.59" stroke-width="0.8"/>
<polygon points="324.4,226.1 326.06,230.27 328.61,228.4 326.94,224.23" stroke-width="0.8"/>
<polygon points="326.06,230.27 327.81,231.37 330.35,229.5 328.61,228.4" stroke-width="0.8"/>
<polygon points="327.88,232.55 330.43,230.68 330.35,229.5 327.81,231.37" stroke-width="0.8"/>
<polygon points="329.77,219.82 331.8,221.1 333.47,225.27 335.79,226.73 335.71,225.54 333.97,224.45 332.3,220.28 329.69,218.64" stroke-width="0.8"/>
<polygon points="329.69,218.64 332.3,220.28 334.84,218.41 332.23,216.77" stroke-width="0.8"/>
<polygon points="332.3,220.28 333.97,224.45 336.51,222.58 334.84,218.41" stroke-width="0.8"/>
<polygon points="333.97,224.45 335.71,225.54 338.25,223.67 336.51,222.58" stroke-width="0.8"/>
<polygon points="335.79,226.73 338.33,224.86 338.25,223.67 335.71,225.54" stroke-width="0.8"/>
<path d="M316.14,217.77 L315.53,217.73 L315.04,217.99 L314.86,218.37 L315.15,218.79 L315.89,219.09 L317.7,218.98 L318.54,219.24 L318.96,219.77 L318.72,220.19 L318.13,220.42 L317.49,220.36 M316.39,217 L319.99,219.25 L320.73,218.7 L320.74,218.11 L319.98,217.4 L319.11,216.86 L318,216.4 L317.13,216.45 L316.39,217 M320.46,216.69 L321.44,215.97 M321.78,213.61 L321.18,213.57 L320.69,213.83 L320.5,214.21 L320.8,214.63 L321.53,214.92 L323.34,214.82 L324.19,215.08 L324.6,215.6 L324.36,216.02 L323.78,216.26 L323.14,216.19 M324.14,213.98 L325.12,213.26 M324.54,211.72 L324.49,211.02 L328.09,213.27" fill="none" stroke="#222" stroke-width="0.95" stroke-linecap="round" stroke-linejoin="round"/>
<polygon points="305.52,236.2 314.81,242.03 314.57,238.47 305.28,232.64" stroke-width="0.9"/>
<polygon points="314.81,242.03 319.32,238.7 319.09,235.14 314.57,238.47" stroke-width="0.9"/>
<polygon points="305.28,232.64 314.57,238.47 319.09,235.14 309.8,229.31" stroke-width="0.9"/>
<polyline points="307.24,236.99 307.03,233.73 311.54,230.4" fill="none" stroke-width="0.7"/>
<polyline points="313.05,240.64 312.83,237.38 317.35,234.05" fill="none" stroke-width="0.7"/>
<polygon points="297.75,243.11 307.04,248.94 306.8,245.38 297.51,239.55" stroke-width="0.9"/>
<polygon points="307.04,248.94 311.55,245.61 311.32,242.05 306.8,245.38" stroke-width="0.9"/>
<polygon points="297.51,239.55 306.8,245.38 311.32,242.05 302.03,236.22" stroke-width="0.9"/>
<polyline points="299.47,243.9 299.25,240.64 303.77,237.32" fill="none" stroke-width="0.7"/>
<polyline points="305.27,247.55 305.06,244.29 309.58,240.96" fill="none" stroke-width="0.7"/>
<polygon points="337.88,237.87 372.11,259.37 371.52,250.48 337.28,228.97"/>
<polygon points="372.11,259.37 395.83,241.9 395.24,233 371.52,250.48"/>
<polygon points="337.28,228.97 371.52,250.48 395.24,233 361,211.5"/>
<polygon points="281.83,252.53 291.12,258.37 290.76,253.03 281.48,247.2"/>
<polygon points="291.12,258.37 298.46,252.96 298.11,247.62 290.76,253.03"/>
<polygon points="281.48,247.2 290.76,253.03 298.11,247.62 288.82,241.79"/>
<polygon points="293.62,253.72 294.84,254.49 295.89,257.7 297.28,258.58 297.21,257.39 296.39,256.88 295.34,253.67 293.55,252.54" stroke-width="0.8"/>
<polygon points="293.55,252.54 295.34,253.67 297.32,252.21 295.52,251.08" stroke-width="0.8"/>
<polygon points="295.34,253.67 296.39,256.88 298.37,255.42 297.32,252.21" stroke-width="0.8"/>
<polygon points="296.39,256.88 297.21,257.39 299.18,255.93 298.37,255.42" stroke-width="0.8"/>
<polygon points="297.28,258.58 299.26,257.12 299.18,255.93 297.21,257.39" stroke-width="0.8"/>
<polygon points="447.96,240.73 452.89,243.83 451.9,229 446.97,225.9"/>
<polygon points="452.89,243.83 466.45,233.84 465.46,219.02 451.9,229"/>
<polygon points="446.97,225.9 451.9,229 465.46,219.02 460.53,215.92"/>
<polygon points="272.32,261.13 281.61,266.96 281.25,261.62 271.96,255.79"/>
<polygon points="281.61,266.96 288.95,261.55 288.59,256.21 281.25,261.62"/>
<polygon points="271.96,255.79 281.25,261.62 288.59,256.21 279.31,250.38"/>
<polygon points="284.11,262.31 285.33,263.08 286.38,266.29 287.77,267.17 287.69,265.98 286.88,265.47 285.83,262.26 284.03,261.13" stroke-width="0.8"/>
<polygon points="284.03,261.13 285.83,262.26 287.81,260.8 286.01,259.67" stroke-width="0.8"/>
<polygon points="285.83,262.26 286.88,265.47 288.86,264.02 287.81,260.8" stroke-width="0.8"/>
<polygon points="286.88,265.47 287.69,265.98 289.67,264.53 288.86,264.02" stroke-width="0.8"/>
<polygon points="287.77,267.17 289.75,265.71 289.67,264.53 287.69,265.98" stroke-width="0.8"/>
<polygon points="462.6,227.57 533.98,272.4 532.04,243.35 460.66,198.51"/>
<polygon points="533.98,272.4 563.91,250.36 561.97,221.3 532.04,243.35"/>
<polygon points="460.66,198.51 532.04,243.35 561.97,221.3 490.59,176.46"/>
<polygon points="473.88,200.65 523.79,232 545.81,215.77 495.91,184.43" stroke-width="1.0"/>
<polyline points="480.26,204.66 496.46,192.73 539.99,220.07" fill="none" stroke-width="0.8"/>
<polyline points="496.46,192.73 495.91,184.43" fill="none" stroke-width="0.8"/>
<polyline points="463.56,200.33 493.49,178.29" fill="none" stroke-width="0.7"/>
<polyline points="465.88,201.79 495.82,179.74" fill="none" stroke-width="0.7"/>
<polyline points="462.35,197.26 471.06,202.73" fill="none" stroke-width="0.6"/>
<polyline points="520.96,234.08 533.73,242.1" fill="none" stroke-width="0.6"/>
<polyline points="522.75,237.51 552.68,215.47" fill="none" stroke-width="0.7"/>
<polyline points="528.55,241.16 558.49,219.11" fill="none" stroke-width="0.7"/>
<polyline points="537.66,218.61 528.63,225.27 530.95,226.72" fill="none" stroke-width="0.7"/>
<polyline points="533.15,221.94 535.47,223.4" fill="none" stroke-width="0.6"/>
<polygon points="460.21,251.5 463.69,253.69 463.6,252.39 460.12,250.2" stroke-width="0.8"/>
<polygon points="463.69,253.69 480.63,241.21 480.55,239.91 463.6,252.39" stroke-width="0.8"/>
<polygon points="460.12,250.2 463.6,252.39 480.55,239.91 477.07,237.72" stroke-width="0.8"/>
<polygon points="475.74,240.06 479.22,242.25 478.27,228.02 474.79,225.83" stroke-width="0.8"/>
<polygon points="479.22,242.25 480.92,241 479.97,226.77 478.27,228.02" stroke-width="0.8"/>
<polygon points="474.79,225.83 478.27,228.02 479.97,226.77 476.48,224.58" stroke-width="0.8"/>
<polygon points="474.79,225.83 478.27,228.02 478.47,230.98 474.99,228.8" fill="#222" stroke="#222" stroke-width="0.5"/>
<polygon points="473.56,259.89 477.04,262.07 476.95,260.77 473.47,258.58" stroke-width="0.8"/>
<polygon points="477.04,262.07 493.98,249.59 493.89,248.29 476.95,260.77" stroke-width="0.8"/>
<polygon points="473.47,258.58 476.95,260.77 493.89,248.29 490.41,246.1" stroke-width="0.8"/>
<polygon points="489.09,248.45 492.57,250.63 491.62,236.4 488.14,234.21" stroke-width="0.8"/>
<polygon points="492.57,250.63 494.26,249.39 493.31,235.15 491.62,236.4" stroke-width="0.8"/>
<polygon points="488.14,234.21 491.62,236.4 493.31,235.15 489.83,232.97" stroke-width="0.8"/>
<polygon points="488.14,234.21 491.62,236.4 491.82,239.37 488.33,237.18" fill="#222" stroke="#222" stroke-width="0.5"/>
<polygon points="486.9,268.27 490.38,270.46 490.3,269.15 486.82,266.97" stroke-width="0.8"/>
<polygon points="490.38,270.46 507.33,257.98 507.24,256.67 490.3,269.15" stroke-width="0.8"/>
<polygon points="486.82,266.97 490.3,269.15 507.24,256.67 503.76,254.49" stroke-width="0.8"/>
<polygon points="502.43,256.83 505.92,259.02 504.97,244.79 501.48,242.6" stroke-width="0.8"/>
<polygon points="505.92,259.02 507.61,257.77 506.66,243.54 504.97,244.79" stroke-width="0.8"/>
<polygon points="501.48,242.6 504.97,244.79 506.66,243.54 503.18,241.35" stroke-width="0.8"/>
<polygon points="501.48,242.6 504.97,244.79 505.16,247.75 501.68,245.56" fill="#222" stroke="#222" stroke-width="0.5"/>
<polygon points="303.02,262.91 312.3,268.74 312.06,265.18 302.78,259.35" stroke-width="0.9"/>
<polygon points="312.3,268.74 316.82,265.41 316.58,261.85 312.06,265.18" stroke-width="0.9"/>
<polygon points="302.78,259.35 312.06,265.18 316.58,261.85 307.3,256.02" stroke-width="0.9"/>
<polyline points="304.74,263.71 304.52,260.44 309.04,257.12" fill="none" stroke-width="0.7"/>
<polyline points="310.54,267.35 310.32,264.09 314.84,260.76" fill="none" stroke-width="0.7"/>
<polygon points="320.54,259.35 348.39,276.84 348,270.91 320.14,253.42"/>
<polygon points="348.39,276.84 367.03,263.12 366.63,257.19 348,270.91"/>
<polygon points="320.14,253.42 348,270.91 366.63,257.19 338.78,239.69"/>
<polyline points="324.13,252.07 327.58,252.69" fill="none" stroke-width="0.7"/>
<polyline points="328.08,249.15 331.53,249.78" fill="none" stroke-width="0.7"/>
<polyline points="332.03,246.24 335.48,246.87" fill="none" stroke-width="0.7"/>
<polyline points="335.99,243.33 339.44,243.96" fill="none" stroke-width="0.7"/>
<polygon points="291.12,275.63 309.69,287.29 309.45,283.74 290.88,272.07" stroke-width="0.9"/>
<polygon points="309.69,287.29 318.73,280.64 318.49,277.08 309.45,283.74" stroke-width="0.9"/>
<polygon points="290.88,272.07 309.45,283.74 318.49,277.08 299.92,265.42" stroke-width="0.9"/>
<polyline points="292.84,276.43 292.62,273.17 301.66,266.51" fill="none" stroke-width="0.7"/>
<polyline points="307.93,285.9 307.71,282.64 316.75,275.99" fill="none" stroke-width="0.7"/>
<polygon points="236.54,277.5 266.02,296.02 265.03,281.19 235.55,262.67"/>
<polygon points="266.02,296.02 280.37,285.45 279.38,270.62 265.03,281.19"/>
<polygon points="235.55,262.67 265.03,281.19 279.38,270.62 249.9,252.11"/>
<polygon points="246.43,262.18 250.15,264.52 247.25,221.23 243.54,218.9" stroke-width="0.9"/>
<polygon points="250.15,264.52 253.76,261.86 250.87,218.57 247.25,221.23" stroke-width="0.9"/>
<polygon points="243.54,218.9 247.25,221.23 250.87,218.57 247.16,216.23" stroke-width="0.9"/>
<polygon points="244.91,218.83 247.24,220.29 249.5,218.63 247.17,217.17" fill="none" stroke-width="0.6"/>
<polygon points="261.17,271.44 264.89,273.78 261.99,230.49 258.28,228.15" stroke-width="0.9"/>
<polygon points="264.89,273.78 268.5,271.11 265.61,227.82 261.99,230.49" stroke-width="0.9"/>
<polygon points="258.28,228.15 261.99,230.49 265.61,227.82 261.9,225.49" stroke-width="0.9"/>
<polygon points="259.65,228.09 261.98,229.55 264.23,227.89 261.91,226.43" fill="none" stroke-width="0.6"/>
<polygon points="311.59,299.12 320.87,304.95 320.63,301.4 311.35,295.56" stroke-width="0.9"/>
<polygon points="320.87,304.95 325.39,301.63 325.15,298.07 320.63,301.4" stroke-width="0.9"/>
<polygon points="311.35,295.56 320.63,301.4 325.15,298.07 315.87,292.24" stroke-width="0.9"/>
<polyline points="313.31,299.92 313.09,296.66 317.61,293.33" fill="none" stroke-width="0.7"/>
<polyline points="319.11,303.56 318.89,300.3 323.41,296.97" fill="none" stroke-width="0.7"/>
<polygon points="434.92,228.17 434.7,226.45 434.28,224.75 433.66,223.09 432.85,221.48 431.86,219.92 430.68,218.42 429.33,217 427.82,215.66 426.15,214.41 424.33,213.26 422.39,212.21 420.31,211.28 418.13,210.47 415.86,209.77 413.5,209.21 411.07,208.77 408.59,208.47 406.08,208.31 403.54,208.28 401,208.39 398.46,208.63 395.96,209 393.49,209.51 391.08,210.15 388.74,210.91 386.48,211.79 384.32,212.79 382.28,213.9 380.36,215.1 378.58,216.41 376.95,217.79 375.47,219.26 374.16,220.79 373.03,222.39 372.08,224.03 371.31,225.71 370.74,227.42 370.37,229.15 370.19,230.89 370.21,232.62 373.78,285.99 374,287.71 374.42,289.41 375.04,291.07 375.85,292.69 376.84,294.25 378.02,295.74 379.36,297.17 380.88,298.51 382.55,299.75 384.36,300.91 386.31,301.95 388.38,302.88 390.56,303.7 392.84,304.39 395.2,304.95 397.62,305.39 400.1,305.69 402.62,305.86 405.16,305.89 407.7,305.78 410.23,305.54 412.74,305.16 415.21,304.65 417.62,304.01 419.96,303.25 422.22,302.37 424.37,301.37 426.42,300.27 428.33,299.06 430.12,297.76 431.75,296.37 433.23,294.9 434.54,293.37 435.67,291.78 436.62,290.13 437.38,288.45 437.96,286.74 438.33,285.01 438.51,283.27 438.48,281.54"/>
<polyline points="373.57,282.91 373.79,284.63 374.21,286.33 374.83,287.99 375.64,289.6 376.63,291.16 377.81,292.66 379.16,294.08 380.67,295.42 382.34,296.67 384.16,297.82 386.11,298.87 388.18,299.8 390.36,300.61 392.63,301.31 394.99,301.87 397.42,302.31 399.9,302.61 402.41,302.77 404.95,302.8 407.49,302.69 410.03,302.45 412.53,302.08 415,301.57 417.41,300.93 419.75,300.17 422.01,299.28 424.17,298.29 426.21,297.18 428.13,295.97 429.91,294.67 431.54,293.29 433.02,291.82 434.33,290.29 435.46,288.69 436.42,287.05 437.18,285.37 437.75,283.66 438.12,281.93 438.3,280.19 438.28,278.46" fill="none"/>
<polyline points="373.47,281.43 373.69,283.15 374.12,284.84 374.73,286.5 375.54,288.12 376.53,289.68 377.71,291.18 379.06,292.6 380.57,293.94 382.24,295.19 384.06,296.34 386.01,297.38 388.08,298.32 390.26,299.13 392.53,299.82 394.89,300.39 397.32,300.82 399.8,301.12 402.31,301.29 404.85,301.32 407.39,301.21 409.93,300.97 412.44,300.59 414.9,300.08 417.31,299.45 419.66,298.68 421.91,297.8 424.07,296.81 426.11,295.7 428.03,294.49 429.81,293.19 431.45,291.8 432.92,290.34 434.23,288.8 435.36,287.21 436.32,285.57 437.08,283.89 437.65,282.17 438.03,280.45 438.2,278.71 438.18,276.97" fill="none"/>
<polyline points="373.1,275.79 373.32,277.51 373.74,279.21 374.36,280.87 375.16,282.49 376.16,284.05 377.33,285.54 378.68,286.97 380.2,288.31 381.87,289.56 383.68,290.71 385.63,291.75 387.7,292.68 389.88,293.5 392.16,294.19 394.52,294.76 396.94,295.19 399.42,295.49 401.94,295.66 404.47,295.69 407.02,295.58 409.55,295.34 412.06,294.96 414.53,294.45 416.94,293.81 419.28,293.05 421.53,292.17 423.69,291.17 425.73,290.07 427.65,288.86 429.44,287.56 431.07,286.17 432.55,284.7 433.85,283.17 434.99,281.58 435.94,279.93 436.7,278.25 437.27,276.54 437.65,274.81 437.83,273.07 437.8,271.34" fill="none"/>
<polygon points="425.78,244.98 427.66,243.47 429.35,241.87 430.83,240.17 432.11,238.41 433.15,236.58 433.96,234.7 434.54,232.8 434.87,230.87 434.95,228.94 434.79,227.02 434.39,225.13 433.74,223.28 432.85,221.48 431.73,219.75 430.4,218.1 428.85,216.54 427.1,215.09 425.16,213.76 423.05,212.55 420.78,211.48 418.38,210.55 415.86,209.77 413.23,209.15 410.53,208.7 407.76,208.4 404.95,208.28 402.13,208.32 399.31,208.53 396.51,208.91 393.76,209.45 391.08,210.15 388.48,211 385.99,212.01 383.63,213.15 381.41,214.42 379.35,215.82 377.47,217.32 375.78,218.93 374.3,220.62 373.03,222.39 371.98,224.22 371.17,226.09 370.59,228 370.26,229.92 370.18,231.85 370.34,233.77 370.75,235.66 371.39,237.52 372.28,239.32 373.4,241.05 374.74,242.7 376.29,244.25 378.04,245.7 379.97,247.04 382.08,248.24 384.35,249.32 386.75,250.24 389.28,251.02 391.9,251.64 394.61,252.1 397.37,252.39 400.18,252.52 403,252.47 405.83,252.26 408.62,251.88 411.37,251.34 414.06,250.64 416.65,249.79 419.14,248.79 421.5,247.64 423.72,246.37 425.78,244.98"/>
<polyline points="427.66,217.16 425.75,215.6 423.62,214.19 421.28,212.93 418.76,211.84 416.07,210.93 413.26,210.22 410.34,209.7 407.35,209.38 404.31,209.27 401.25,209.36 398.2,209.66 395.2,210.17 392.27,210.87 389.44,211.76 386.74,212.83 384.19,214.08 381.82,215.48 379.66,217.04 377.72,218.72 376.02,220.51 374.58,222.41 373.42,224.38 372.54,226.4 371.95,228.47 371.66,230.56 371.68,232.64 371.99,234.71 372.61,236.73 373.52,238.69 374.71,240.57" fill="none" stroke-width="0.8"/>
<polyline points="393.77,249.15 429.35,222.94" fill="none" stroke-width="0.9"/>
<polygon points="230.04,318.99 234.1,321.54 237.4,329.29 242.04,332.21 241.96,331.02 237.9,328.47 234.6,320.72 229.96,317.8" stroke-width="0.8"/>
<polygon points="229.96,317.8 234.6,320.72 239.69,316.98 235.04,314.06" stroke-width="0.8"/>
<polygon points="234.6,320.72 237.9,328.47 242.98,324.73 239.69,316.98" stroke-width="0.8"/>
<polygon points="237.9,328.47 241.96,331.02 247.05,327.28 242.98,324.73" stroke-width="0.8"/>
<polygon points="242.04,332.21 247.13,328.47 247.05,327.28 241.96,331.02" stroke-width="0.8"/>
<polygon points="255.46,300.27 259.52,302.82 262.82,310.57 267.46,313.49 267.38,312.3 263.32,309.75 260.02,302 255.38,299.08" stroke-width="0.8"/>
<polygon points="255.38,299.08 260.02,302 265.1,298.25 260.46,295.34" stroke-width="0.8"/>
<polygon points="260.02,302 263.32,309.75 268.4,306.01 265.1,298.25" stroke-width="0.8"/>
<polygon points="263.32,309.75 267.38,312.3 272.46,308.56 268.4,306.01" stroke-width="0.8"/>
<polygon points="267.46,313.49 272.54,309.75 272.46,308.56 267.38,312.3" stroke-width="0.8"/>
<polygon points="196.38,297.85 192.73,295.55 190.51,299.84 186.33,297.22 186.25,296.03 189.85,298.29 192.07,294 196.3,296.66" stroke-width="0.8"/>
<polygon points="196.3,296.66 192.07,294 197.15,290.26 201.39,292.92" stroke-width="0.8"/>
<polygon points="192.07,294 189.85,298.29 194.94,294.55 197.15,290.26" stroke-width="0.8"/>
<polygon points="189.85,298.29 186.25,296.03 191.34,292.29 194.94,294.55" stroke-width="0.8"/>
<polygon points="195.71,304.57 229.36,325.71 227.98,304.95 194.32,283.81"/>
<polygon points="229.36,325.71 261.78,301.83 260.4,281.08 227.98,304.95"/>
<polygon points="194.32,283.81 227.98,304.95 260.4,281.08 226.74,259.94"/>
<polyline points="194.4,285 228.06,306.14" fill="none" stroke-width="0.6"/>
<polyline points="228.06,306.14 260.48,282.26" fill="none" stroke-width="0.6"/>
<polygon points="206.94,281.41 206.92,281.22 206.87,281.03 206.8,280.84 206.71,280.66 206.6,280.48 206.47,280.32 206.32,280.16 206.15,280.01 205.96,279.87 205.75,279.74 205.53,279.62 205.3,279.51 205.06,279.42 204.8,279.34 204.54,279.28 204.26,279.23 203.98,279.2 203.7,279.18 203.41,279.18 203.13,279.19 202.84,279.21 202.56,279.26 202.28,279.31 202.01,279.39 201.75,279.47 201.5,279.57 201.25,279.68 201.02,279.81 200.81,279.94 200.61,280.09 200.42,280.25 200.26,280.41 200.11,280.58 199.98,280.76 199.87,280.95 199.79,281.14 199.72,281.33 199.68,281.52 199.66,281.72 199.67,281.91 199.78,283.69 199.81,283.89 199.86,284.08 199.93,284.26 200.02,284.45 200.13,284.62 200.26,284.79 200.41,284.95 200.58,285.1 200.77,285.24 200.98,285.37 201.19,285.49 201.43,285.59 201.67,285.69 201.93,285.76 202.19,285.83 202.47,285.88 202.75,285.91 203.03,285.93 203.31,285.93 203.6,285.92 203.89,285.89 204.17,285.85 204.45,285.79 204.72,285.72 204.98,285.63 205.23,285.54 205.48,285.42 205.71,285.3 205.92,285.16 206.12,285.02 206.31,284.86 206.47,284.7 206.62,284.52 206.75,284.34 206.85,284.16 206.94,283.97 207,283.78 207.05,283.58 207.07,283.39 207.06,283.19" stroke-width="0.9"/>
<polygon points="205.92,283.3 206.13,283.13 206.32,282.95 206.49,282.76 206.63,282.57 206.75,282.36 206.84,282.15 206.9,281.93 206.94,281.72 206.95,281.5 206.93,281.28 206.88,281.07 206.81,280.86 206.71,280.66 206.59,280.47 206.44,280.28 206.26,280.11 206.06,279.94 205.85,279.79 205.61,279.66 205.35,279.54 205.08,279.43 204.8,279.34 204.51,279.27 204.2,279.22 203.89,279.19 203.57,279.18 203.26,279.18 202.94,279.2 202.62,279.25 202.31,279.31 202.01,279.39 201.72,279.48 201.44,279.6 201.17,279.72 200.93,279.87 200.69,280.02 200.48,280.19 200.29,280.37 200.13,280.56 199.98,280.76 199.86,280.97 199.77,281.18 199.71,281.39 199.67,281.61 199.66,281.83 199.68,282.04 199.73,282.26 199.8,282.47 199.9,282.67 200.02,282.86 200.17,283.05 200.35,283.22 200.55,283.39 200.76,283.54 201,283.67 201.26,283.79 201.53,283.9 201.81,283.98 202.11,284.05 202.41,284.11 202.72,284.14 203.04,284.15 203.35,284.15 203.67,284.12 203.99,284.08 204.3,284.02 204.6,283.94 204.89,283.85 205.17,283.73 205.44,283.6 205.69,283.46 205.92,283.3" stroke-width="0.9"/>
<polygon points="231.32,296.72 231.29,296.53 231.25,296.34 231.18,296.15 231.08,295.97 230.97,295.79 230.84,295.63 230.69,295.47 230.52,295.31 230.33,295.17 230.13,295.04 229.91,294.93 229.67,294.82 229.43,294.73 229.17,294.65 228.91,294.59 228.63,294.54 228.36,294.51 228.07,294.49 227.79,294.48 227.5,294.5 227.22,294.52 226.93,294.57 226.66,294.62 226.39,294.7 226.12,294.78 225.87,294.88 225.63,294.99 225.4,295.12 225.18,295.25 224.98,295.4 224.8,295.56 224.63,295.72 224.48,295.89 224.35,296.07 224.25,296.26 224.16,296.45 224.1,296.64 224.06,296.83 224.04,297.03 224.04,297.22 224.16,299 224.18,299.2 224.23,299.39 224.3,299.57 224.39,299.76 224.5,299.93 224.63,300.1 224.79,300.26 224.96,300.41 225.14,300.55 225.35,300.68 225.57,300.8 225.8,300.9 226.05,300.99 226.3,301.07 226.57,301.14 226.84,301.18 227.12,301.22 227.4,301.24 227.69,301.24 227.97,301.23 228.26,301.2 228.54,301.16 228.82,301.1 229.09,301.03 229.35,300.94 229.61,300.84 229.85,300.73 230.08,300.61 230.29,300.47 230.5,300.33 230.68,300.17 230.84,300 230.99,299.83 231.12,299.65 231.23,299.47 231.31,299.28 231.38,299.09 231.42,298.89 231.44,298.7 231.44,298.5" stroke-width="0.9"/>
<polygon points="230.29,298.61 230.5,298.44 230.69,298.26 230.86,298.07 231,297.87 231.12,297.67 231.21,297.46 231.27,297.24 231.31,297.03 231.32,296.81 231.3,296.59 231.26,296.38 231.18,296.17 231.08,295.97 230.96,295.77 230.81,295.59 230.63,295.41 230.44,295.25 230.22,295.1 229.98,294.97 229.73,294.84 229.46,294.74 229.17,294.65 228.88,294.58 228.57,294.53 228.26,294.5 227.95,294.48 227.63,294.49 227.31,294.51 227,294.56 226.69,294.62 226.39,294.7 226.09,294.79 225.81,294.9 225.55,295.03 225.3,295.18 225.07,295.33 224.85,295.5 224.66,295.68 224.5,295.87 224.35,296.07 224.24,296.28 224.15,296.49 224.08,296.7 224.04,296.92 224.03,297.14 224.05,297.35 224.1,297.57 224.17,297.77 224.27,297.98 224.4,298.17 224.55,298.36 224.72,298.53 224.92,298.69 225.14,298.85 225.37,298.98 225.63,299.1 225.9,299.21 226.18,299.29 226.48,299.36 226.78,299.41 227.09,299.45 227.41,299.46 227.73,299.46 228.04,299.43 228.36,299.39 228.67,299.33 228.97,299.25 229.26,299.15 229.54,299.04 229.81,298.91 230.06,298.77 230.29,298.61" stroke-width="0.9"/>
<polygon points="230.38,264.15 230.36,263.96 230.31,263.77 230.24,263.58 230.15,263.4 230.04,263.22 229.91,263.05 229.76,262.89 229.59,262.74 229.4,262.6 229.19,262.47 228.97,262.35 228.74,262.25 228.5,262.16 228.24,262.08 227.97,262.02 227.7,261.97 227.42,261.93 227.14,261.92 226.85,261.91 226.57,261.92 226.28,261.95 226,261.99 225.72,262.05 225.45,262.12 225.19,262.21 224.93,262.31 224.69,262.42 224.46,262.54 224.25,262.68 224.05,262.83 223.86,262.98 223.7,263.15 223.55,263.32 223.42,263.5 223.31,263.68 223.23,263.87 223.16,264.07 223.12,264.26 223.1,264.46 223.1,264.65 223.22,266.43 223.25,266.62 223.3,266.81 223.37,267 223.46,267.18 223.57,267.36 223.7,267.53 223.85,267.69 224.02,267.84 224.21,267.98 224.41,268.11 224.63,268.22 224.87,268.33 225.11,268.42 225.37,268.5 225.63,268.56 225.91,268.61 226.19,268.65 226.47,268.66 226.75,268.67 227.04,268.66 227.32,268.63 227.61,268.59 227.88,268.53 228.16,268.46 228.42,268.37 228.67,268.27 228.92,268.16 229.15,268.04 229.36,267.9 229.56,267.75 229.75,267.6 229.91,267.43 230.06,267.26 230.19,267.08 230.29,266.9 230.38,266.71 230.44,266.51 230.49,266.32 230.51,266.12 230.5,265.93" stroke-width="0.9"/>
<polygon points="229.36,266.04 229.57,265.87 229.76,265.69 229.92,265.5 230.07,265.3 230.19,265.1 230.28,264.88 230.34,264.67 230.38,264.45 230.39,264.24 230.37,264.02 230.32,263.81 230.25,263.6 230.15,263.4 230.03,263.2 229.88,263.02 229.7,262.84 229.5,262.68 229.29,262.53 229.05,262.39 228.79,262.27 228.52,262.17 228.24,262.08 227.94,262.01 227.64,261.96 227.33,261.93 227.01,261.91 226.7,261.92 226.38,261.94 226.06,261.98 225.75,262.04 225.45,262.12 225.16,262.22 224.88,262.33 224.61,262.46 224.36,262.6 224.13,262.76 223.92,262.93 223.73,263.11 223.56,263.3 223.42,263.5 223.3,263.7 223.21,263.92 223.15,264.13 223.11,264.35 223.1,264.56 223.12,264.78 223.16,264.99 223.24,265.2 223.34,265.4 223.46,265.6 223.61,265.78 223.79,265.96 223.98,266.12 224.2,266.27 224.44,266.41 224.69,266.53 224.97,266.63 225.25,266.72 225.54,266.79 225.85,266.84 226.16,266.87 226.48,266.89 226.79,266.88 227.11,266.86 227.43,266.82 227.74,266.76 228.04,266.68 228.33,266.58 228.61,266.47 228.87,266.34 229.12,266.2 229.36,266.04" stroke-width="0.9"/>
<polygon points="254.76,279.46 254.73,279.27 254.68,279.07 254.61,278.89 254.52,278.71 254.41,278.53 254.28,278.36 254.13,278.2 253.96,278.05 253.77,277.91 253.57,277.78 253.35,277.66 253.11,277.56 252.87,277.47 252.61,277.39 252.35,277.33 252.07,277.28 251.8,277.24 251.51,277.22 251.23,277.22 250.94,277.23 250.66,277.26 250.37,277.3 250.1,277.36 249.82,277.43 249.56,277.52 249.31,277.62 249.06,277.73 248.83,277.85 248.62,277.99 248.42,278.14 248.23,278.29 248.07,278.46 247.92,278.63 247.79,278.81 247.69,278.99 247.6,279.18 247.54,279.37 247.49,279.57 247.47,279.76 247.48,279.96 247.6,281.74 247.62,281.93 247.67,282.12 247.74,282.31 247.83,282.49 247.94,282.67 248.07,282.84 248.22,283 248.39,283.15 248.58,283.29 248.79,283.42 249.01,283.53 249.24,283.64 249.48,283.73 249.74,283.81 250.01,283.87 250.28,283.92 250.56,283.95 250.84,283.97 251.13,283.98 251.41,283.96 251.7,283.94 251.98,283.89 252.26,283.84 252.53,283.77 252.79,283.68 253.05,283.58 253.29,283.47 253.52,283.34 253.73,283.21 253.93,283.06 254.12,282.91 254.28,282.74 254.43,282.57 254.56,282.39 254.67,282.2 254.75,282.02 254.82,281.82 254.86,281.63 254.88,281.43 254.88,281.24" stroke-width="0.9"/>
<polygon points="253.73,281.35 253.94,281.18 254.13,281 254.3,280.81 254.44,280.61 254.56,280.4 254.65,280.19 254.71,279.98 254.75,279.76 254.76,279.55 254.74,279.33 254.7,279.12 254.62,278.91 254.52,278.71 254.4,278.51 254.25,278.33 254.07,278.15 253.88,277.99 253.66,277.84 253.42,277.7 253.17,277.58 252.9,277.48 252.61,277.39 252.32,277.32 252.01,277.27 251.7,277.23 251.39,277.22 251.07,277.23 250.75,277.25 250.44,277.29 250.13,277.35 249.82,277.43 249.53,277.53 249.25,277.64 248.99,277.77 248.74,277.91 248.51,278.07 248.29,278.24 248.1,278.42 247.94,278.61 247.79,278.81 247.68,279.01 247.58,279.22 247.52,279.44 247.48,279.66 247.47,279.87 247.49,280.09 247.54,280.3 247.61,280.51 247.71,280.71 247.84,280.91 247.99,281.09 248.16,281.27 248.36,281.43 248.58,281.58 248.81,281.72 249.07,281.84 249.34,281.94 249.62,282.03 249.92,282.1 250.22,282.15 250.53,282.18 250.85,282.2 251.17,282.19 251.48,282.17 251.8,282.13 252.11,282.07 252.41,281.99 252.7,281.89 252.98,281.78 253.25,281.65 253.5,281.51 253.73,281.35" stroke-width="0.9"/>
<polygon points="241.08,274.95 240.98,274.2 240.8,273.45 240.53,272.73 240.17,272.02 239.74,271.34 239.22,270.68 238.63,270.06 237.97,269.47 237.24,268.93 236.45,268.42 235.59,267.97 234.69,267.56 233.73,267.2 232.74,266.9 231.71,266.65 230.64,266.46 229.56,266.33 228.46,266.26 227.35,266.24 226.24,266.29 225.13,266.4 224.03,266.56 222.95,266.79 221.9,267.06 220.87,267.4 219.89,267.78 218.94,268.22 218.05,268.7 217.21,269.23 216.43,269.8 215.71,270.41 215.07,271.05 214.5,271.72 214,272.42 213.58,273.14 213.25,273.87 213,274.62 212.83,275.38 212.76,276.14 212.77,276.9 213.2,283.42 213.3,284.17 213.49,284.91 213.75,285.64 214.11,286.35 214.54,287.03 215.06,287.68 215.65,288.31 216.31,288.89 217.04,289.44 217.83,289.94 218.69,290.4 219.59,290.81 220.55,291.16 221.54,291.47 222.58,291.71 223.64,291.9 224.72,292.04 225.82,292.11 226.93,292.12 228.04,292.07 229.15,291.97 230.25,291.8 231.33,291.58 232.38,291.3 233.41,290.97 234.4,290.58 235.34,290.15 236.23,289.66 237.07,289.13 237.85,288.57 238.57,287.96 239.21,287.32 239.79,286.65 240.28,285.95 240.7,285.23 241.03,284.49 241.28,283.75 241.45,282.99 241.52,282.23 241.51,281.47"/>
<polygon points="237.08,282.3 237.9,281.64 238.64,280.94 239.29,280.2 239.85,279.43 240.3,278.63 240.66,277.81 240.91,276.97 241.06,276.13 241.09,275.28 241.02,274.45 240.84,273.62 240.56,272.81 240.17,272.02 239.68,271.26 239.1,270.54 238.42,269.86 237.65,269.23 236.81,268.64 235.88,268.11 234.89,267.64 233.84,267.24 232.74,266.9 231.59,266.63 230.4,266.43 229.19,266.3 227.97,266.24 226.73,266.26 225.5,266.36 224.27,266.52 223.07,266.76 221.9,267.06 220.76,267.44 219.67,267.88 218.64,268.38 217.67,268.93 216.77,269.54 215.94,270.2 215.21,270.9 214.56,271.64 214,272.42 213.54,273.22 213.19,274.04 212.93,274.87 212.79,275.71 212.75,276.56 212.82,277.4 213,278.23 213.29,279.04 213.67,279.82 214.16,280.58 214.75,281.3 215.43,281.98 216.19,282.62 217.04,283.2 217.96,283.73 218.95,284.2 220,284.6 221.11,284.94 222.26,285.22 223.44,285.42 224.65,285.54 225.88,285.6 227.11,285.58 228.35,285.49 229.57,285.32 230.78,285.09 231.95,284.78 233.08,284.41 234.17,283.97 235.21,283.47 236.18,282.91 237.08,282.3"/>
<polygon points="304.67,306.03 313.96,311.87 313.72,308.31 304.44,302.48" stroke-width="0.9"/>
<polygon points="313.96,311.87 318.48,308.54 318.24,304.98 313.72,308.31" stroke-width="0.9"/>
<polygon points="304.44,302.48 313.72,308.31 318.24,304.98 308.95,299.15" stroke-width="0.9"/>
<polyline points="306.39,306.83 306.18,303.57 310.7,300.24" fill="none" stroke-width="0.7"/>
<polyline points="312.2,310.48 311.98,307.21 316.5,303.89" fill="none" stroke-width="0.7"/>
<polygon points="251.76,336.93 256.41,339.84 256.21,336.88 251.57,333.96" stroke-width="0.9"/>
<polygon points="256.41,339.84 265.44,333.19 265.24,330.22 256.21,336.88" stroke-width="0.9"/>
<polygon points="251.57,333.96 256.21,336.88 265.24,330.22 260.6,327.31" stroke-width="0.9"/>
<polyline points="253.26,332.71 257.9,335.63 258.08,338.3" fill="none" stroke-width="0.7"/>
<polyline points="258.91,328.55 263.55,331.47 263.73,334.14" fill="none" stroke-width="0.7"/>
<polygon points="387.36,262.96 387.14,261.24 386.71,259.55 386.1,257.89 385.29,256.27 384.3,254.71 383.12,253.21 381.77,251.79 380.26,250.45 378.59,249.2 376.77,248.05 374.82,247.01 372.75,246.07 370.57,245.26 368.3,244.57 365.94,244 363.51,243.57 361.03,243.27 358.52,243.1 355.98,243.07 353.44,243.18 350.9,243.42 348.4,243.8 345.93,244.31 343.52,244.94 341.18,245.71 338.92,246.59 336.76,247.58 334.72,248.69 332.8,249.9 331.02,251.2 329.39,252.59 327.91,254.05 326.6,255.59 325.47,257.18 324.51,258.82 323.75,260.5 323.18,262.22 322.81,263.95 322.63,265.68 322.65,267.42 326.22,320.79 326.44,322.51 326.86,324.2 327.48,325.86 328.28,327.48 329.28,329.04 330.45,330.54 331.8,331.96 333.32,333.3 334.99,334.55 336.8,335.7 338.75,336.74 340.82,337.68 343,338.49 345.28,339.18 347.64,339.75 350.06,340.18 352.54,340.48 355.06,340.65 357.59,340.68 360.14,340.57 362.67,340.33 365.18,339.95 367.65,339.44 370.06,338.81 372.4,338.04 374.65,337.16 376.81,336.16 378.86,335.06 380.77,333.85 382.56,332.55 384.19,331.16 385.67,329.7 386.97,328.16 388.11,326.57 389.06,324.93 389.82,323.24 390.39,321.53 390.77,319.8 390.95,318.07 390.92,316.33"/>
<polyline points="326.01,317.7 326.23,319.42 326.65,321.12 327.27,322.78 328.08,324.4 329.07,325.96 330.25,327.45 331.6,328.88 333.11,330.22 334.78,331.46 336.6,332.61 338.54,333.66 340.62,334.59 342.8,335.41 345.07,336.1 347.43,336.66 349.86,337.1 352.34,337.4 354.85,337.56 357.39,337.59 359.93,337.49 362.47,337.25 364.97,336.87 367.44,336.36 369.85,335.72 372.19,334.96 374.45,334.08 376.61,333.08 378.65,331.98 380.57,330.77 382.35,329.47 383.98,328.08 385.46,326.61 386.77,325.08 387.9,323.49 388.85,321.84 389.62,320.16 390.19,318.45 390.56,316.72 390.74,314.98 390.72,313.25" fill="none"/>
<polyline points="325.91,316.22 326.13,317.94 326.55,319.64 327.17,321.3 327.98,322.91 328.97,324.47 330.15,325.97 331.5,327.39 333.01,328.73 334.68,329.98 336.5,331.13 338.45,332.18 340.52,333.11 342.7,333.92 344.97,334.62 347.33,335.18 349.76,335.62 352.24,335.92 354.75,336.08 357.29,336.11 359.83,336.01 362.37,335.76 364.87,335.39 367.34,334.88 369.75,334.24 372.09,333.48 374.35,332.6 376.51,331.6 378.55,330.49 380.47,329.29 382.25,327.98 383.88,326.6 385.36,325.13 386.67,323.6 387.8,322 388.76,320.36 389.52,318.68 390.09,316.97 390.46,315.24 390.64,313.5 390.62,311.77" fill="none"/>
<polyline points="325.53,310.59 325.76,312.31 326.18,314 326.8,315.66 327.6,317.28 328.6,318.84 329.77,320.34 331.12,321.76 332.64,323.1 334.31,324.35 336.12,325.5 338.07,326.54 340.14,327.48 342.32,328.29 344.6,328.98 346.96,329.55 349.38,329.98 351.86,330.28 354.38,330.45 356.91,330.48 359.46,330.37 361.99,330.13 364.5,329.75 366.97,329.24 369.38,328.61 371.72,327.84 373.97,326.96 376.13,325.96 378.17,324.86 380.09,323.65 381.87,322.35 383.51,320.96 384.98,319.5 386.29,317.96 387.43,316.37 388.38,314.73 389.14,313.04 389.71,311.33 390.09,309.6 390.26,307.87 390.24,306.13" fill="none"/>
<polygon points="378.22,279.77 380.1,278.26 381.79,276.66 383.27,274.97 384.54,273.2 385.59,271.37 386.4,269.5 386.98,267.59 387.31,265.66 387.39,263.73 387.23,261.81 386.83,259.92 386.18,258.07 385.29,256.27 384.17,254.54 382.84,252.89 381.28,251.33 379.53,249.88 377.6,248.55 375.49,247.34 373.22,246.27 370.82,245.34 368.3,244.57 365.67,243.95 362.96,243.49 360.2,243.2 357.39,243.07 354.57,243.11 351.75,243.32 348.95,243.7 346.2,244.24 343.52,244.94 340.92,245.8 338.43,246.8 336.07,247.94 333.85,249.21 331.79,250.61 329.91,252.12 328.22,253.72 326.74,255.41 325.47,257.18 324.42,259.01 323.61,260.88 323.03,262.79 322.7,264.72 322.62,266.65 322.78,268.56 323.19,270.46 323.83,272.31 324.72,274.11 325.84,275.84 327.18,277.49 328.73,279.05 330.48,280.5 332.41,281.83 334.52,283.04 336.79,284.11 339.19,285.04 341.71,285.81 344.34,286.43 347.05,286.89 349.81,287.18 352.62,287.31 355.44,287.27 358.26,287.05 361.06,286.68 363.81,286.14 366.49,285.44 369.09,284.58 371.58,283.58 373.94,282.44 376.16,281.16 378.22,279.77"/>
<polyline points="380.1,251.96 378.19,250.4 376.06,248.98 373.72,247.72 371.19,246.63 368.51,245.73 365.7,245.01 362.78,244.49 359.79,244.17 356.75,244.06 353.69,244.16 350.64,244.46 347.64,244.96 344.71,245.66 341.88,246.55 339.18,247.63 336.63,248.87 334.26,250.28 332.1,251.83 330.16,253.51 328.46,255.31 327.02,257.2 325.86,259.17 324.98,261.2 324.39,263.27 324.1,265.35 324.12,267.44 324.43,269.5 325.05,271.52 325.96,273.48 327.15,275.36" fill="none" stroke-width="0.8"/>
<polyline points="346.21,283.94 381.79,257.74" fill="none" stroke-width="0.9"/>
<polygon points="260.89,343.27 265.53,346.19 265.33,343.23 260.69,340.31" stroke-width="0.9"/>
<polygon points="265.53,346.19 274.57,339.53 274.37,336.57 265.33,343.23" stroke-width="0.9"/>
<polygon points="260.69,340.31 265.33,343.23 274.37,336.57 269.73,333.65" stroke-width="0.9"/>
<polyline points="262.38,339.06 267.03,341.98 267.2,344.65" fill="none" stroke-width="0.7"/>
<polyline points="268.03,334.9 272.67,337.82 272.85,340.49" fill="none" stroke-width="0.7"/>
<polygon points="422.87,327.94 426.59,330.28 422.71,272.16 418.99,269.83" stroke-width="0.9"/>
<polygon points="426.59,330.28 430.2,327.61 426.32,269.5 422.71,272.16" stroke-width="0.9"/>
<polygon points="418.99,269.83 422.71,272.16 426.32,269.5 422.61,267.17" stroke-width="0.9"/>
<polygon points="420.37,269.77 422.69,271.23 424.95,269.56 422.63,268.1" fill="none" stroke-width="0.6"/>
<polygon points="437.22,317.38 440.93,319.71 437.05,261.6 433.34,259.26" stroke-width="0.9"/>
<polygon points="440.93,319.71 444.55,317.05 440.67,258.93 437.05,261.6" stroke-width="0.9"/>
<polygon points="433.34,259.26 437.05,261.6 440.67,258.93 436.95,256.6" stroke-width="0.9"/>
<polygon points="434.71,259.2 437.03,260.66 439.29,259 436.97,257.54" fill="none" stroke-width="0.6"/>
<polygon points="451.56,306.81 455.28,309.14 451.4,251.03 447.68,248.7" stroke-width="0.9"/>
<polygon points="455.28,309.14 458.89,306.48 455.01,248.37 451.4,251.03" stroke-width="0.9"/>
<polygon points="447.68,248.7 451.4,251.03 455.01,248.37 451.3,246.03" stroke-width="0.9"/>
<polygon points="449.06,248.63 451.38,250.09 453.64,248.43 451.32,246.97" fill="none" stroke-width="0.6"/>
<polygon points="269.58,348.35 274.23,351.27 274.03,348.3 269.39,345.39" stroke-width="0.9"/>
<polygon points="274.23,351.27 283.26,344.61 283.06,341.65 274.03,348.3" stroke-width="0.9"/>
<polygon points="269.39,345.39 274.03,348.3 283.06,341.65 278.42,338.73" stroke-width="0.9"/>
<polyline points="271.08,344.14 275.72,347.06 275.9,349.72" fill="none" stroke-width="0.7"/>
<polyline points="276.73,339.98 281.37,342.9 281.55,345.56" fill="none" stroke-width="0.7"/>
<polygon points="277.69,352.67 282.33,355.59 282.14,352.63 277.49,349.71" stroke-width="0.9"/>
<polygon points="282.33,355.59 291.37,348.93 291.17,345.97 282.14,352.63" stroke-width="0.9"/>
<polygon points="277.49,349.71 282.14,352.63 291.17,345.97 286.53,343.05" stroke-width="0.9"/>
<polyline points="279.19,348.46 283.83,351.38 284.01,354.05" fill="none" stroke-width="0.7"/>
<polyline points="284.84,344.3 289.48,347.22 289.66,349.89" fill="none" stroke-width="0.7"/>
<polygon points="419.49,306.33 447.93,324.19 532.65,261.79 504.21,243.93"/>
<polygon points="447.93,324.19 458.91,353.82 543.63,291.42 532.65,261.79"/>
<polygon points="458.91,353.82 462.25,363.87 546.97,301.47 543.63,291.42"/>
<polygon points="462.25,363.87 464.15,392.33 548.87,329.93 546.97,301.47"/>
<polygon points="464.15,392.33 417.73,363.17 418.49,307.97 419.49,306.33 447.93,324.19 458.91,353.82 462.25,363.87"/>
<polyline points="447.73,285.53 476.17,303.39" fill="none" stroke-width="1.3"/>
<polyline points="476.17,303.39 487.15,333.02" fill="none" stroke-width="1.3"/>
<polyline points="487.15,333.02 490.49,343.07" fill="none" stroke-width="1.3"/>
<polyline points="490.49,343.07 492.39,371.53" fill="none" stroke-width="1.3"/>
<polyline points="475.97,264.73 504.41,282.59" fill="none" stroke-width="1.3"/>
<polyline points="504.41,282.59 515.39,312.22" fill="none" stroke-width="1.3"/>
<polyline points="515.39,312.22 518.73,322.27" fill="none" stroke-width="1.3"/>
<polyline points="518.73,322.27 520.63,350.73" fill="none" stroke-width="1.3"/>
<polygon points="458.27,311.42 459.51,310.39 460.55,309.26 461.37,308.06 461.96,306.8 462.3,305.51 462.4,304.21 462.25,302.91 461.86,301.66 461.22,300.45 460.35,299.33 459.27,298.29 457.99,297.37 456.54,296.58 454.95,295.93 453.22,295.43 451.41,295.1 449.54,294.93 447.63,294.93 445.73,295.1 443.87,295.44 442.07,295.93 440.37,296.59 438.8,297.38 437.38,298.3 436.15,299.33 435.11,300.46 434.29,301.67 433.7,302.92 433.35,304.21 433.25,305.52 433.4,306.81 433.8,308.07 434.44,309.27 435.31,310.4 436.39,311.43 437.66,312.35 439.11,313.14 440.71,313.79 442.43,314.29 444.25,314.63 446.12,314.8 448.03,314.8 449.93,314.63 451.79,314.29 453.59,313.79 455.29,313.14 456.86,312.34 458.27,311.42"/>
<polyline points="455.45,296.94 453.92,296.39 452.29,295.97 450.58,295.71 448.83,295.6 447.05,295.66 445.29,295.87 443.58,296.23 441.93,296.75 440.39,297.4 438.98,298.18 437.71,299.07 436.62,300.06 435.72,301.14 435.03,302.27 434.56,303.46 434.31,304.66 434.29,305.87 434.51,307.07 434.96,308.22 435.62,309.32" fill="none" stroke-width="0.9"/>
<polyline points="435.28,309.75 454,295.96" fill="none" stroke-width="1.3"/>
<polyline points="436.37,310.92 455.8,296.61" fill="none" stroke-width="0.7"/>
<polyline points="441.28,313.64 460.18,299.72" fill="none" stroke-width="1.3"/>
<polygon points="468.81,386.72 489.71,371.33 488.21,348.79 467.31,364.19" stroke-width="1.0"/>
<polyline points="487.67,371.9 486.29,351.14" fill="none" stroke-width="0.8"/>
<polyline points="486.29,351.14 488.21,348.79" fill="none" stroke-width="0.6"/>
<polyline points="473.58,360.5 486.58,368.78" fill="none" stroke-width="0.8"/>
<polyline points="468.96,380.02 486.27,368.58" fill="none" stroke-width="0.8"/>
<polyline points="465.26,391.2 463.38,363.04" fill="none" stroke-width="0.7"/>
<polygon points="486.51,290.62 487.75,289.59 488.79,288.46 489.61,287.26 490.2,286 490.54,284.71 490.64,283.41 490.49,282.11 490.1,280.86 489.46,279.65 488.59,278.53 487.51,277.49 486.23,276.57 484.78,275.78 483.19,275.13 481.46,274.63 479.65,274.3 477.78,274.13 475.87,274.13 473.97,274.3 472.11,274.64 470.31,275.13 468.61,275.79 467.04,276.58 465.62,277.5 464.39,278.53 463.35,279.66 462.53,280.87 461.94,282.12 461.59,283.41 461.49,284.72 461.64,286.01 462.04,287.27 462.68,288.47 463.55,289.6 464.63,290.63 465.9,291.55 467.35,292.34 468.95,292.99 470.67,293.49 472.49,293.83 474.36,294 476.27,294 478.17,293.83 480.03,293.49 481.83,292.99 483.53,292.34 485.1,291.54 486.51,290.62"/>
<polyline points="483.69,276.14 482.16,275.59 480.53,275.17 478.82,274.91 477.07,274.8 475.29,274.86 473.53,275.07 471.82,275.43 470.17,275.95 468.63,276.6 467.22,277.38 465.95,278.27 464.86,279.26 463.96,280.34 463.27,281.47 462.8,282.66 462.55,283.86 462.53,285.07 462.75,286.27 463.2,287.42 463.86,288.52" fill="none" stroke-width="0.9"/>
<polyline points="463.52,288.95 482.24,275.16" fill="none" stroke-width="1.3"/>
<polyline points="464.61,290.12 484.04,275.81" fill="none" stroke-width="0.7"/>
<polyline points="469.52,292.84 488.42,278.92" fill="none" stroke-width="1.3"/>
<polygon points="497.05,365.92 517.95,350.53 516.45,327.99 495.55,343.39" stroke-width="1.0"/>
<polyline points="515.91,351.1 514.53,330.34" fill="none" stroke-width="0.8"/>
<polyline points="514.53,330.34 516.45,327.99" fill="none" stroke-width="0.6"/>
<polyline points="501.82,339.7 514.82,347.98" fill="none" stroke-width="0.8"/>
<polyline points="497.2,359.22 514.51,347.78" fill="none" stroke-width="0.8"/>
<polyline points="493.5,370.4 491.62,342.24" fill="none" stroke-width="0.7"/>
<polygon points="514.75,269.82 515.99,268.79 517.03,267.66 517.85,266.46 518.44,265.2 518.78,263.91 518.88,262.61 518.73,261.31 518.34,260.06 517.7,258.85 516.83,257.73 515.75,256.69 514.47,255.77 513.02,254.98 511.43,254.33 509.7,253.83 507.89,253.5 506.02,253.33 504.11,253.33 502.21,253.5 500.35,253.84 498.55,254.33 496.85,254.99 495.28,255.78 493.86,256.7 492.63,257.73 491.59,258.86 490.77,260.07 490.18,261.32 489.83,262.61 489.73,263.92 489.88,265.21 490.28,266.47 490.92,267.67 491.79,268.8 492.87,269.83 494.14,270.75 495.59,271.54 497.19,272.19 498.91,272.69 500.73,273.03 502.6,273.2 504.51,273.2 506.41,273.03 508.27,272.69 510.07,272.19 511.77,271.54 513.34,270.74 514.75,269.82"/>
<polyline points="511.93,255.34 510.4,254.79 508.77,254.37 507.06,254.11 505.31,254 503.53,254.06 501.77,254.27 500.06,254.63 498.41,255.15 496.87,255.8 495.46,256.58 494.19,257.47 493.1,258.46 492.2,259.54 491.51,260.67 491.04,261.86 490.79,263.06 490.77,264.27 490.99,265.47 491.44,266.62 492.1,267.72" fill="none" stroke-width="0.9"/>
<polyline points="491.76,268.15 510.48,254.36" fill="none" stroke-width="1.3"/>
<polyline points="492.85,269.32 512.28,255.01" fill="none" stroke-width="0.7"/>
<polyline points="497.76,272.04 516.66,258.12" fill="none" stroke-width="1.3"/>
<polygon points="525.29,345.12 546.19,329.73 544.69,307.19 523.79,322.59" stroke-width="1.0"/>
<polyline points="544.15,330.3 542.77,309.54" fill="none" stroke-width="0.8"/>
<polyline points="542.77,309.54 544.69,307.19" fill="none" stroke-width="0.6"/>
<polyline points="530.06,318.9 543.06,327.18" fill="none" stroke-width="0.8"/>
<polyline points="525.44,338.42 542.75,326.98" fill="none" stroke-width="0.8"/>
<polyline points="521.74,349.6 519.86,321.44" fill="none" stroke-width="0.7"/>
<polygon points="417.04,377.62 426.32,383.45 426.13,380.48 416.84,374.65" stroke-width="0.9"/>
<polygon points="426.32,383.45 430.84,380.12 430.65,377.16 426.13,380.48" stroke-width="0.9"/>
<polygon points="416.84,374.65 426.13,380.48 430.65,377.16 421.36,371.32" stroke-width="0.9"/>
<polyline points="418.76,378.41 418.58,375.74 423.1,372.42" fill="none" stroke-width="0.7"/>
<polyline points="424.56,382.06 424.39,379.39 428.9,376.06" fill="none" stroke-width="0.7"/>
<polygon points="352.28,392.54 357.93,388.38 358.64,399.06 352.99,403.22" stroke-width="0.8"/>
<polygon points="352.32,393.14 354.01,391.89 354.65,401.38 352.95,402.62" fill="#bbb" stroke-width="0.5"/>
<polygon points="374.3,376.32 379.95,372.16 380.67,382.83 375.02,386.99" stroke-width="0.8"/>
<polygon points="374.34,376.91 376.04,375.66 376.67,385.15 374.98,386.4" fill="#bbb" stroke-width="0.5"/>
<polygon points="288.41,366.5 288.46,364.76 288.87,363.32 289.62,362.21 328.59,333.51 329.65,332.8 330.98,332.5 332.53,332.63 334.23,333.19 336.03,334.14 371.72,356.56 373.54,357.88 375.32,359.51 376.99,361.4 378.47,363.46 379.72,365.62 380.69,367.8 381.34,369.92 381.64,371.88 381.58,373.62 381.17,375.07 380.43,376.17 341.45,404.87 340.4,405.58 339.07,405.88 337.52,405.75 335.82,405.19 334.02,404.24 298.33,381.82 296.5,380.5 294.73,378.87 293.06,376.98 291.58,374.92 290.33,372.76 289.36,370.58 288.71,368.47"/>
<polyline points="297.06,362.85 336.03,334.14" fill="none" stroke-width="0.8"/>
<polyline points="332.75,385.26 371.72,356.56" fill="none" stroke-width="0.8"/>
<polyline points="342.67,400.58 381.64,371.88" fill="none" stroke-width="0.8"/>
<polygon points="297.06,362.85 295.26,361.89 293.56,361.34 292.01,361.21 290.68,361.5 289.62,362.21 288.87,363.32 288.46,364.76 288.41,366.5 288.71,368.47 289.36,370.58 290.33,372.76 291.58,374.92 293.06,376.98 294.73,378.87 296.5,380.5 298.33,381.82 334.02,404.24 335.82,405.19 337.52,405.75 339.07,405.88 340.4,405.58 341.45,404.87 342.2,403.77 342.61,402.32 342.67,400.58 342.37,398.62 341.72,396.51 340.75,394.33 339.5,392.17 338.01,390.1 336.35,388.22 334.57,386.58 332.75,385.26"/>
<polygon points="297.16,364.33 295.64,363.52 294.2,363.06 292.9,362.94 291.78,363.19 290.88,363.8 290.25,364.72 289.91,365.95 289.86,367.41 290.12,369.07 290.66,370.85 291.48,372.69 292.53,374.52 293.79,376.26 295.19,377.85 296.69,379.23 298.23,380.34 333.92,402.76 335.44,403.56 336.87,404.03 338.18,404.14 339.3,403.89 340.19,403.29 340.83,402.36 341.17,401.14 341.22,399.67 340.96,398.02 340.42,396.23 339.6,394.4 338.54,392.57 337.29,390.83 335.89,389.24 334.39,387.86 332.85,386.75" stroke-width="0.9"/>
<polygon points="301.7,361.3 300.24,360.52 298.85,360.07 297.59,359.96 296.51,360.2 295.65,360.78 295.05,361.68 294.71,362.86 294.67,364.27 294.91,365.86 295.44,367.58 296.23,369.35 297.24,371.11 298.45,372.78 299.8,374.32 301.25,375.64 302.73,376.72 338.42,399.13 339.88,399.91 341.26,400.36 342.52,400.47 343.6,400.22 344.46,399.65 345.07,398.75 345.4,397.57 345.45,396.16 345.2,394.57 344.67,392.85 343.89,391.08 342.87,389.32 341.66,387.65 340.31,386.11 338.87,384.79 337.39,383.71" fill="none" stroke-width="0.7"/>
<polygon points="301.68,368.75 339.69,392.63 339.57,390.85 301.56,366.97" stroke-width="0.8"/>
<polygon points="328.55,346.78 333.77,350.06 337.44,347.36 332.22,344.08" stroke-width="0.9"/>
<polygon points="329.98,346.91 333.46,349.1 336.01,347.23 332.52,345.04" fill="none" stroke-width="0.6"/>
<polygon points="346.65,358.16 351.87,361.44 355.55,358.73 350.32,355.45" stroke-width="0.9"/>
<polygon points="348.09,358.29 351.57,360.47 354.11,358.6 350.63,356.41" fill="none" stroke-width="0.6"/>
<polygon points="408.33,383.4 417.61,389.23 417.42,386.27 408.13,380.43" stroke-width="0.9"/>
<polygon points="417.61,389.23 422.13,385.9 421.93,382.94 417.42,386.27" stroke-width="0.9"/>
<polygon points="408.13,380.43 417.42,386.27 421.93,382.94 412.65,377.11" stroke-width="0.9"/>
<polyline points="410.05,384.2 409.87,381.53 414.39,378.2" fill="none" stroke-width="0.7"/>
<polyline points="415.85,387.84 415.68,385.17 420.19,381.84" fill="none" stroke-width="0.7"/>
<polygon points="438.8,391.44 448.09,397.27 447.89,394.31 438.61,388.48" stroke-width="0.9"/>
<polygon points="448.09,397.27 452.61,393.95 452.41,390.98 447.89,394.31" stroke-width="0.9"/>
<polygon points="438.61,388.48 447.89,394.31 452.41,390.98 443.12,385.15" stroke-width="0.9"/>
<polyline points="440.53,392.24 440.35,389.57 444.87,386.24" fill="none" stroke-width="0.7"/>
<polyline points="446.33,395.88 446.15,393.21 450.67,389.89" fill="none" stroke-width="0.7"/>
<polygon points="429.28,396.4 438.56,402.23 438.36,399.27 429.08,393.44" stroke-width="0.9"/>
<polygon points="438.56,402.23 443.08,398.9 442.88,395.94 438.36,399.27" stroke-width="0.9"/>
<polygon points="429.08,393.44 438.36,399.27 442.88,395.94 433.6,390.11" stroke-width="0.9"/>
<polyline points="431,397.2 430.82,394.53 435.34,391.2" fill="none" stroke-width="0.7"/>
<polyline points="436.8,400.84 436.62,398.17 441.14,394.85" fill="none" stroke-width="0.7"/>
<line x1="262.74" y1="90.47" x2="355.37" y2="22.25" stroke="#3f9f9c" stroke-width="1.0"/>
<line x1="592.95" y1="298.65" x2="686.14" y2="230.01" stroke="#3f9f9c" stroke-width="1.0"/>
<line x1="351.7" y1="24.95" x2="682.47" y2="232.72" stroke="#3f9f9c" stroke-width="1.0"/>
<polygon points="351.7,24.95 358.66,27.97 357.44,29.92" fill="#3f9f9c" stroke="#3f9f9c" stroke-width="0.5"/>
<polygon points="682.47,232.72 675.51,229.7 676.73,227.76" fill="#3f9f9c" stroke="#3f9f9c" stroke-width="0.5"/>
<line x1="282.49" y1="103.65" x2="346.88" y2="56.22" stroke="#3f9f9c" stroke-width="1.0"/>
<line x1="572.64" y1="285.9" x2="637.03" y2="238.47" stroke="#3f9f9c" stroke-width="1.0"/>
<line x1="342.92" y1="59.14" x2="633.07" y2="241.39" stroke="#3f9f9c" stroke-width="1.0"/>
<polygon points="342.92,59.14 349.88,62.15 348.66,64.1" fill="#3f9f9c" stroke="#3f9f9c" stroke-width="0.5"/>
<polygon points="633.07,241.39 626.11,238.37 627.33,236.42" fill="#3f9f9c" stroke="#3f9f9c" stroke-width="0.5"/>
<line x1="403.2" y1="410.7" x2="463.55" y2="448.61" stroke="#3f9f9c" stroke-width="1.0"/>
<line x1="572.64" y1="285.9" x2="632.99" y2="323.81" stroke="#3f9f9c" stroke-width="1.0"/>
<line x1="459.78" y1="446.24" x2="629.22" y2="321.44" stroke="#3f9f9c" stroke-width="1.0"/>
<polygon points="459.78,446.24 465.13,440.86 466.5,442.71" fill="#3f9f9c" stroke="#3f9f9c" stroke-width="0.5"/>
<polygon points="629.22,321.44 623.86,326.81 622.5,324.96" fill="#3f9f9c" stroke="#3f9f9c" stroke-width="0.5"/>
<line x1="383.43" y1="425.26" x2="473.96" y2="482.12" stroke="#3f9f9c" stroke-width="1.0"/>
<line x1="592.41" y1="271.34" x2="682.93" y2="328.2" stroke="#3f9f9c" stroke-width="1.0"/>
<line x1="471.06" y1="480.3" x2="680.03" y2="326.38" stroke="#3f9f9c" stroke-width="1.0"/>
<polygon points="471.06,480.3 476.41,474.92 477.78,476.78" fill="#3f9f9c" stroke="#3f9f9c" stroke-width="0.5"/>
<polygon points="680.03,326.38 674.68,331.75 673.31,329.9" fill="#3f9f9c" stroke="#3f9f9c" stroke-width="0.5"/>
<line x1="60.5" y1="195" x2="223.49" y2="74.93" stroke="#3f9f9c" stroke-width="1.0"/>
<line x1="64.7" y1="264.3" x2="87.8" y2="248.9" stroke="#3f9f9c" stroke-width="1.0"/>
<line x1="61" y1="137.8" x2="67.2" y2="264.5" stroke="#3f9f9c" stroke-width="1.0"/>
<polygon points="63.7,192.4 65.22,199.83 62.92,199.95" fill="#3f9f9c" stroke="#3f9f9c" stroke-width="0.5"/>
<polygon points="67.15,262.7 65.63,255.27 67.93,255.15" fill="#3f9f9c" stroke="#3f9f9c" stroke-width="0.5"/>
<line x1="562.07" y1="281.65" x2="726.5" y2="284.4" stroke="#3f9f9c" stroke-width="1.0"/>
<polygon points="585,286.2 592.49,284.96 592.51,287.26" fill="#3f9f9c" stroke="#3f9f9c" stroke-width="0.5"/>
<line x1="403.2" y1="410.7" x2="371.4" y2="490" stroke="#3f9f9c" stroke-width="1.0"/>
<polygon points="395.7,429.6 393.97,436.99 391.83,436.13" fill="#3f9f9c" stroke="#3f9f9c" stroke-width="0.5"/>
<path d="M511.76,113.08 L509.04,111.38 L507.34,114.08 L508.36,114.2 L509.37,114.84 L509.99,115.91 L509.97,117.27 L509.44,118.31 L508.44,118.97 L507.32,118.87 L506.37,118.27 L505.85,117.34 L505.83,116.56 M513.66,114.27 L517.07,116.41 L511.62,121.57 M516.15,123.81 L515.92,124.26 M524.9,125.61 L524.31,126.56 L523.61,127.32 L522.87,127.8 L522.16,127.96 L521.55,127.79 L521.1,127.3 L520.86,126.54 L520.85,125.59 L521.06,124.53 L521.49,123.47 L522.08,122.52 L522.79,121.77 L523.53,121.28 L524.24,121.12 L524.85,121.29 L525.29,121.78 L525.54,122.54 L525.55,123.5 L525.33,124.56 L524.9,125.61 M529.96,128.79 L529.37,129.74 L528.67,130.49 L527.92,130.97 L527.21,131.14 L526.6,130.96 L526.16,130.47 L525.92,129.71 L525.9,128.76 L526.12,127.7 L526.55,126.64 L527.14,125.69 L527.84,124.94 L528.59,124.46 L529.3,124.29 L529.9,124.46 L530.35,124.95 L530.59,125.71 L530.61,126.67 L530.39,127.73 L529.96,128.79 M532.2,128.65 L529.96,133.07 M531.77,129.49 L532.48,129.08 L533.18,129.18 L533.62,129.79 L533.54,130.6 L531.73,134.18 M533.54,130.6 L534.25,130.19 L534.95,130.29 L535.39,130.9 L535.31,131.71 L533.5,135.29 M537.89,132.22 L535.64,136.64 M537.46,133.06 L538.17,132.65 L538.87,132.75 L539.31,133.36 L539.23,134.17 L537.41,137.75 M539.23,134.17 L539.94,133.76 L540.64,133.86 L541.08,134.47 L541,135.28 L539.18,138.86" fill="none" stroke="#2a8f8b" stroke-width="1.12" stroke-linecap="round" stroke-linejoin="round"/>
<path d="M479.95,131.5 L477.24,129.78 L475.54,132.48 L476.55,132.61 L477.56,133.25 L478.18,134.33 L478.16,135.69 L477.63,136.73 L476.63,137.38 L475.52,137.28 L474.57,136.68 L474.05,135.74 L474.03,134.96 M483.59,138.11 L483,139.06 L482.3,139.81 L481.56,140.29 L480.85,140.45 L480.24,140.28 L479.8,139.79 L479.56,139.02 L479.55,138.07 L479.76,137.01 L480.19,135.95 L480.78,135 L481.49,134.24 L482.23,133.76 L482.94,133.6 L483.54,133.78 L483.99,134.27 L484.23,135.03 L484.24,135.99 L484.02,137.05 L483.59,138.11 M484.32,142.26 L484.09,142.72 M493.04,144.11 L492.45,145.06 L491.75,145.81 L491.01,146.29 L490.3,146.45 L489.69,146.28 L489.25,145.78 L489.01,145.02 L489,144.06 L489.22,143 L489.64,141.95 L490.24,141 L490.94,140.24 L491.68,139.76 L492.39,139.6 L492.99,139.78 L493.44,140.27 L493.68,141.03 L493.69,141.99 L493.47,143.05 L493.04,144.11 M498.09,147.31 L497.49,148.26 L496.79,149.01 L496.05,149.49 L495.34,149.65 L494.73,149.48 L494.29,148.98 L494.05,148.22 L494.04,147.26 L494.26,146.2 L494.68,145.15 L495.28,144.19 L495.98,143.44 L496.72,142.96 L497.43,142.8 L498.03,142.98 L498.48,143.47 L498.72,144.23 L498.73,145.19 L498.51,146.25 L498.09,147.31 M500.32,147.17 L498.07,151.59 M499.89,148.02 L500.6,147.61 L501.3,147.71 L501.73,148.33 L501.65,149.14 L499.84,152.71 M501.65,149.14 L502.36,148.73 L503.06,148.83 L503.5,149.45 L503.42,150.26 L501.6,153.83 M505.99,150.77 L503.74,155.19 M505.56,151.62 L506.27,151.21 L506.97,151.31 L507.4,151.93 L507.32,152.74 L505.51,156.31 M507.32,152.74 L508.03,152.33 L508.73,152.43 L509.17,153.05 L509.09,153.86 L507.27,157.43" fill="none" stroke="#2a8f8b" stroke-width="1.12" stroke-linecap="round" stroke-linejoin="round"/>
<path d="M522.09,383.47 L525.14,381.29 L525.31,384.98 L526.06,384.45 L527.22,384.29 L528.42,384.86 L529.24,385.8 L529.51,387.04 L528.99,388.08 L528.06,388.74 L526.95,388.86 L526.18,388.56 M532.79,380.6 L533.5,381.57 L533.97,382.56 L534.16,383.48 L534.06,384.23 L533.66,384.75 L533.02,384.97 L532.19,384.89 L531.25,384.5 L530.3,383.85 L529.43,383 L528.73,382.03 L528.25,381.03 L528.06,380.12 L528.17,379.36 L528.56,378.85 L529.21,378.62 L530.04,378.71 L530.97,379.09 L531.92,379.74 L532.79,380.6 M537.1,381.62 L537.46,382.04 M542.14,373.93 L542.84,374.91 L543.31,375.9 L543.51,376.82 L543.4,377.57 L543,378.08 L542.36,378.31 L541.53,378.23 L540.59,377.84 L539.64,377.19 L538.77,376.33 L538.07,375.36 L537.6,374.37 L537.4,373.45 L537.51,372.7 L537.9,372.18 L538.55,371.96 L539.38,372.04 L540.32,372.43 L541.27,373.08 L542.14,373.93 M547.12,370.38 L547.82,371.35 L548.3,372.34 L548.49,373.26 L548.38,374.02 L547.99,374.53 L547.34,374.76 L546.51,374.67 L545.57,374.28 L544.63,373.63 L543.75,372.78 L543.05,371.81 L542.58,370.82 L542.38,369.9 L542.49,369.15 L542.89,368.63 L543.53,368.4 L544.36,368.49 L545.3,368.88 L546.25,369.53 L547.12,370.38 M547.82,368.16 L551.29,372.18 M548.48,368.93 L548.35,368.07 L548.7,367.44 L549.47,367.28 L550.23,367.69 L553.03,370.93 M550.23,367.69 L550.09,366.83 L550.45,366.2 L551.21,366.03 L551.97,366.44 L554.77,369.69 M553.42,364.17 L556.89,368.18 M554.09,364.93 L553.95,364.08 L554.31,363.44 L555.07,363.28 L555.83,363.69 L558.64,366.93 M555.83,363.69 L555.69,362.83 L556.05,362.2 L556.81,362.03 L557.57,362.45 L560.38,365.69" fill="none" stroke="#2a8f8b" stroke-width="1.12" stroke-linecap="round" stroke-linejoin="round"/>
<path d="M548.59,404.97 L551.64,402.79 L551.81,406.48 L552.56,405.95 L553.72,405.79 L554.92,406.36 L555.74,407.3 L556.01,408.54 L555.49,409.58 L554.56,410.24 L553.45,410.36 L552.68,410.06 M553.38,401.55 L556.74,399.15 L559.73,406.56 M563.6,403.12 L563.96,403.54 M568.64,395.43 L569.34,396.41 L569.81,397.4 L570.01,398.32 L569.9,399.07 L569.5,399.58 L568.86,399.81 L568.03,399.73 L567.09,399.34 L566.14,398.69 L565.27,397.83 L564.57,396.86 L564.1,395.87 L563.9,394.95 L564.01,394.2 L564.4,393.68 L565.05,393.46 L565.88,393.54 L566.82,393.93 L567.77,394.58 L568.64,395.43 M573.62,391.88 L574.32,392.85 L574.8,393.84 L574.99,394.76 L574.88,395.52 L574.49,396.03 L573.84,396.26 L573.01,396.17 L572.07,395.78 L571.13,395.13 L570.25,394.28 L569.55,393.31 L569.08,392.32 L568.88,391.4 L568.99,390.65 L569.39,390.13 L570.03,389.9 L570.86,389.99 L571.8,390.38 L572.75,391.03 L573.62,391.88 M574.32,389.66 L577.79,393.68 M574.98,390.43 L574.85,389.57 L575.2,388.94 L575.97,388.78 L576.73,389.19 L579.53,392.43 M576.73,389.19 L576.59,388.33 L576.95,387.7 L577.71,387.53 L578.47,387.94 L581.27,391.19 M579.92,385.67 L583.39,389.68 M580.59,386.43 L580.45,385.58 L580.81,384.94 L581.57,384.78 L582.33,385.19 L585.14,388.43 M582.33,385.19 L582.19,384.33 L582.55,383.7 L583.31,383.53 L584.07,383.95 L586.88,387.19" fill="none" stroke="#2a8f8b" stroke-width="1.12" stroke-linecap="round" stroke-linejoin="round"/>
<polyline points="675.25,277.5 675.14,278.2 674.8,278.87 674.25,279.47 673.51,280 672.62,280.41 671.62,280.7 670.55,280.84 669.45,280.84 668.38,280.7 667.38,280.41 666.49,280 665.75,279.47 665.2,278.87 664.86,278.2 664.75,277.5 664.86,276.8 665.2,276.13 665.75,275.53 666.49,275 667.38,274.59 668.38,274.3 669.45,274.16 670.55,274.16 671.62,274.3 672.62,274.59 673.51,275 674.25,275.53 674.8,276.13 675.14,276.8 675.25,277.5" fill="none" stroke="#2a8f8b" stroke-width="1.0"/>
<line x1="666.22" y1="282.96" x2="673.78" y2="272.04" stroke="#2a8f8b" stroke-width="1.0"/>
<path d="M685.67,273.2 L690.13,273.2 L687.4,276.56 L688.49,276.56 L689.68,277.15 L690.31,278.41 L690.31,279.75 L689.59,281.01 L688.31,281.6 L686.95,281.6 L685.86,281.01 L685.4,280.26 M693.41,281.01 L693.41,281.6 M699.96,274.46 L701.78,273.2 L701.78,281.6 M711.25,277.4 L711.13,278.7 L710.78,279.87 L710.23,280.8 L709.55,281.39 L708.79,281.6 L708.03,281.39 L707.34,280.8 L706.8,279.87 L706.45,278.7 L706.33,277.4 L706.45,276.1 L706.8,274.93 L707.34,274 L708.03,273.41 L708.79,273.2 L709.55,273.41 L710.23,274 L710.78,274.93 L711.13,276.1 L711.25,277.4 M713.61,275.89 L713.61,281.6 M713.61,276.98 L714.16,276.14 L714.98,275.8 L715.8,276.14 L716.16,276.98 L716.16,281.6 M716.16,276.98 L716.71,276.14 L717.53,275.8 L718.35,276.14 L718.71,276.98 L718.71,281.6 M721.8,275.89 L721.8,281.6 M721.8,276.98 L722.35,276.14 L723.17,275.8 L723.99,276.14 L724.35,276.98 L724.35,281.6 M724.35,276.98 L724.9,276.14 L725.72,275.8 L726.54,276.14 L726.9,276.98 L726.9,281.6" fill="none" stroke="#2a8f8b" stroke-width="1.12" stroke-linecap="round" stroke-linejoin="round"/>
<path d="M69.86,131.76 L71.08,132.21 L63.28,137.96 M70.08,136.98 L71.3,137.43 L63.5,143.18 M64.21,146.56 L63.66,146.96 M71.63,145.26 L71.78,148.78 L63.88,152.31 M68.1,156.87 L66.89,157.68 L65.79,158.23 L64.91,158.47 L64.34,158.39 L64.12,157.99 L64.29,157.3 L64.82,156.4 L65.67,155.38 L66.75,154.32 L67.95,153.35 L69.16,152.55 L70.25,152 L71.13,151.75 L71.71,151.83 L71.92,152.24 L71.75,152.92 L71.22,153.82 L70.37,154.85 L69.3,155.9 L68.1,156.87 M69.57,157.53 L64.27,161.44 M68.56,158.28 L69.35,158.1 L69.69,158.46 L69.4,159.27 L68.63,160.11 L64.34,163.27 M68.63,160.11 L69.43,159.92 L69.77,160.28 L69.48,161.1 L68.71,161.94 L64.42,165.1 M69.82,163.41 L64.51,167.32 M68.8,164.15 L69.6,163.97 L69.94,164.33 L69.65,165.14 L68.88,165.98 L64.59,169.14 M68.88,165.98 L69.68,165.8 L70.01,166.15 L69.72,166.97 L68.96,167.81 L64.67,170.97" fill="none" stroke="#2a8f8b" stroke-width="1.12" stroke-linecap="round" stroke-linejoin="round"/>
<path d="M367.3,490.5 L357.3,489.9 L357.99,487.88 L358.97,487.08 L360.59,486.82 L362.07,487.27 L362.59,488.15 L361.9,490.18 M362.5,488.39 L368.43,487.17 M359.07,484.66 L360.06,481.74 L363.46,483.77 L363.7,483.06 L364.66,482.32 L366.3,482 L367.9,482.09 L369.24,482.66 L369.66,483.54 L369.36,484.43 L368.41,485.1 L367.41,485.34 M370.09,480.16 L370.79,480.2 M363.04,472.93 L362.18,475.49 L366.5,476 L366.16,475.19 L366.48,474.23 L367.56,473.45 L369.32,473.07 L370.92,473.16 L372.26,473.73 L372.68,474.61 L372.38,475.5 L371.44,476.17 L370.44,476.41 M369.74,468.23 L371.25,468.41 L372.57,468.72 L373.56,469.14 L374.11,469.63 L374.19,470.14 L373.78,470.62 L372.92,471.03 L371.69,471.32 L370.22,471.46 L368.65,471.45 L367.13,471.28 L365.81,470.97 L364.83,470.54 L364.27,470.05 L364.19,469.54 L364.6,469.06 L365.47,468.65 L366.69,468.36 L368.16,468.22 L369.74,468.23 M368.46,466.58 L375.26,466.99 M369.76,466.66 L368.88,466.24 L368.66,465.68 L369.24,465.17 L370.32,464.99 L375.82,465.32 M370.32,464.99 L369.44,464.57 L369.23,464.01 L369.81,463.5 L370.89,463.32 L376.39,463.65 M370.27,461.22 L377.07,461.63 M371.57,461.3 L370.69,460.88 L370.47,460.32 L371.06,459.81 L372.14,459.63 L377.64,459.96 M372.14,459.63 L371.26,459.21 L371.04,458.65 L371.62,458.14 L372.7,457.96 L378.2,458.29" fill="none" stroke="#2a8f8b" stroke-width="1.12" stroke-linecap="round" stroke-linejoin="round"/>
</g>
</svg>
</body></html>
